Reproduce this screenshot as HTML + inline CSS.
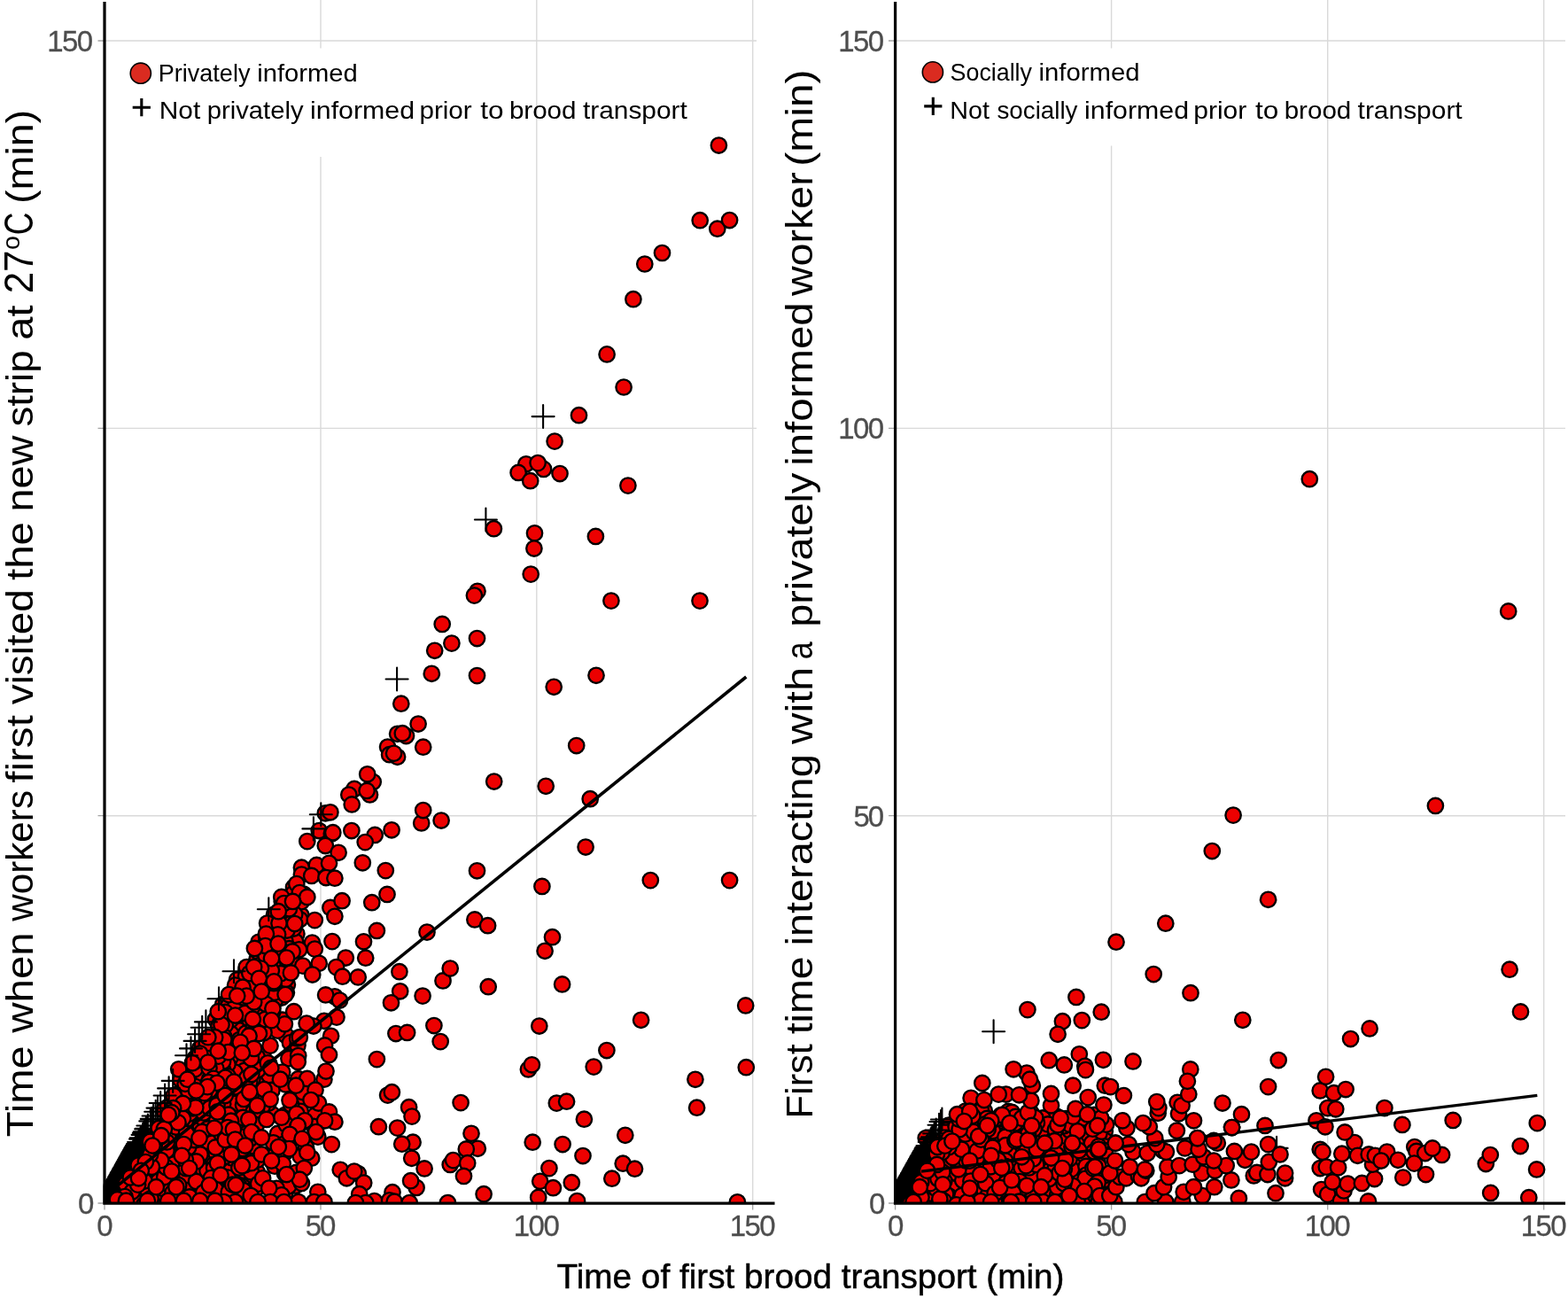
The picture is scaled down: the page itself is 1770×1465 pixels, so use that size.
<!DOCTYPE html>
<html lang="en"><head><meta charset="utf-8"><title>Time of first brood transport</title>
<style>html,body{margin:0;padding:0;background:#fff}body{width:1770px;height:1465px;overflow:hidden}</style></head>
<body>
<svg width="1770" height="1465" viewBox="0 0 1770 1465" style="display:block;font-family:'Liberation Sans',sans-serif">
<rect width="1770" height="1465" fill="#fff"/>
<defs><clipPath id="cl"><rect x="116.5" y="0" width="760" height="1358"/></clipPath><clipPath id="cr"><rect x="1009" y="0" width="761" height="1358"/></clipPath></defs>
<path d="M362.0 0V1358M605.8 0V1358M849.7 0V1358M118 46.0H854M118 483.4H854M118 920.7H854M1254.6 0V1358M1498.7 0V1358M1742.7 0V1358M1010 46.0H1767M1010 483.4H1767M1010 920.7H1767" stroke="#d9d9d9" stroke-width="1.4" fill="none"/>
<rect x="130" y="54.5" width="460" height="122.5" fill="#fff"/>
<rect x="1025" y="54.5" width="460" height="110" fill="#fff"/>
<g clip-path="url(#cl)"><g fill="#ec0000" stroke="#000" stroke-width="2.35"><circle cx="325.9" cy="1194.7" r="8.7"/><circle cx="307.1" cy="1356.6" r="8.7"/><circle cx="303.6" cy="1200.4" r="8.7"/><circle cx="343.7" cy="1240.4" r="8.7"/><circle cx="321.9" cy="1346.5" r="8.7"/><circle cx="339.2" cy="1305.1" r="8.7"/><circle cx="355.7" cy="1258.9" r="8.7"/><circle cx="313.6" cy="1279.4" r="8.7"/><circle cx="354.3" cy="1271.4" r="8.7"/><circle cx="345.5" cy="1295.1" r="8.7"/><circle cx="336.7" cy="1217.7" r="8.7"/><circle cx="308.6" cy="1289.8" r="8.7"/><circle cx="322.7" cy="1168.4" r="8.7"/><circle cx="307.0" cy="1257.4" r="8.7"/><circle cx="293.1" cy="1338.0" r="8.7"/><circle cx="308.8" cy="1305.6" r="8.7"/><circle cx="322.4" cy="1224.0" r="8.7"/><circle cx="327.4" cy="1176.8" r="8.7"/><circle cx="310.1" cy="1316.2" r="8.7"/><circle cx="306.9" cy="1230.8" r="8.7"/><circle cx="339.3" cy="1254.3" r="8.7"/><circle cx="321.4" cy="1258.7" r="8.7"/><circle cx="334.3" cy="1323.4" r="8.7"/><circle cx="336.0" cy="1179.7" r="8.7"/><circle cx="293.5" cy="1224.1" r="8.7"/><circle cx="336.7" cy="1191.5" r="8.7"/><circle cx="333.9" cy="1338.3" r="8.7"/><circle cx="325.7" cy="1338.7" r="8.7"/><circle cx="328.6" cy="1246.7" r="8.7"/><circle cx="318.9" cy="1151.2" r="8.7"/><circle cx="320.6" cy="1291.3" r="8.7"/><circle cx="335.6" cy="1171.9" r="8.7"/><circle cx="321.8" cy="1300.7" r="8.7"/><circle cx="302.9" cy="1245.3" r="8.7"/><circle cx="296.1" cy="1248.7" r="8.7"/><circle cx="303.6" cy="1213.5" r="8.7"/><circle cx="297.1" cy="1191.9" r="8.7"/><circle cx="312.2" cy="1341.3" r="8.7"/><circle cx="341.5" cy="1232.5" r="8.7"/><circle cx="313.3" cy="1163.1" r="8.7"/><circle cx="318.7" cy="1210.1" r="8.7"/><circle cx="323.1" cy="1269.2" r="8.7"/><circle cx="305.0" cy="1180.2" r="8.7"/><circle cx="335.8" cy="1271.7" r="8.7"/><circle cx="321.4" cy="1324.5" r="8.7"/><circle cx="298.0" cy="1165.4" r="8.7"/><circle cx="138.9" cy="1341.8" r="8.7"/><circle cx="321.9" cy="1095.4" r="8.7"/><circle cx="246.1" cy="1169.9" r="8.7"/><circle cx="307.7" cy="1142.1" r="8.7"/><circle cx="220.2" cy="1305.9" r="8.7"/><circle cx="218.4" cy="1317.2" r="8.7"/><circle cx="217.8" cy="1329.3" r="8.7"/><circle cx="238.1" cy="1198.6" r="8.7"/><circle cx="285.0" cy="1210.0" r="8.7"/><circle cx="342.7" cy="1009.1" r="8.7"/><circle cx="171.6" cy="1282.9" r="8.7"/><circle cx="275.4" cy="1185.7" r="8.7"/><circle cx="221.9" cy="1357.4" r="8.7"/><circle cx="305.2" cy="1089.7" r="8.7"/><circle cx="220.6" cy="1343.8" r="8.7"/><circle cx="278.6" cy="1153.4" r="8.7"/><circle cx="292.0" cy="1063.3" r="8.7"/><circle cx="242.3" cy="1253.3" r="8.7"/><circle cx="273.9" cy="1254.6" r="8.7"/><circle cx="283.2" cy="1342.0" r="8.7"/><circle cx="198.8" cy="1303.9" r="8.7"/><circle cx="217.5" cy="1241.8" r="8.7"/><circle cx="324.4" cy="1111.2" r="8.7"/><circle cx="309.6" cy="1032.0" r="8.7"/><circle cx="329.9" cy="1026.0" r="8.7"/><circle cx="182.1" cy="1354.6" r="8.7"/><circle cx="294.9" cy="1144.5" r="8.7"/><circle cx="238.9" cy="1185.8" r="8.7"/><circle cx="194.2" cy="1289.3" r="8.7"/><circle cx="226.4" cy="1205.8" r="8.7"/><circle cx="270.3" cy="1303.5" r="8.7"/><circle cx="235.3" cy="1296.3" r="8.7"/><circle cx="268.9" cy="1151.7" r="8.7"/><circle cx="283.4" cy="1240.1" r="8.7"/><circle cx="265.3" cy="1314.3" r="8.7"/><circle cx="212.4" cy="1261.8" r="8.7"/><circle cx="289.1" cy="1166.5" r="8.7"/><circle cx="257.0" cy="1225.1" r="8.7"/><circle cx="284.1" cy="1304.0" r="8.7"/><circle cx="234.0" cy="1310.6" r="8.7"/><circle cx="262.8" cy="1251.0" r="8.7"/><circle cx="277.5" cy="1159.0" r="8.7"/><circle cx="259.4" cy="1175.4" r="8.7"/><circle cx="226.5" cy="1248.4" r="8.7"/><circle cx="218.1" cy="1265.6" r="8.7"/><circle cx="149.3" cy="1334.5" r="8.7"/><circle cx="201.6" cy="1258.6" r="8.7"/><circle cx="202.5" cy="1241.5" r="8.7"/><circle cx="132.1" cy="1359.5" r="8.7"/><circle cx="282.5" cy="1154.4" r="8.7"/><circle cx="331.5" cy="1001.5" r="8.7"/><circle cx="226.7" cy="1327.4" r="8.7"/><circle cx="277.2" cy="1269.6" r="8.7"/><circle cx="284.8" cy="1133.5" r="8.7"/><circle cx="265.0" cy="1214.1" r="8.7"/><circle cx="229.3" cy="1294.8" r="8.7"/><circle cx="340.1" cy="1033.2" r="8.7"/><circle cx="237.5" cy="1338.0" r="8.7"/><circle cx="154.4" cy="1342.5" r="8.7"/><circle cx="195.2" cy="1328.0" r="8.7"/><circle cx="254.0" cy="1317.8" r="8.7"/><circle cx="276.8" cy="1335.7" r="8.7"/><circle cx="334.9" cy="1053.9" r="8.7"/><circle cx="294.5" cy="1102.5" r="8.7"/><circle cx="265.2" cy="1358.1" r="8.7"/><circle cx="316.9" cy="1061.5" r="8.7"/><circle cx="241.2" cy="1269.6" r="8.7"/><circle cx="254.2" cy="1144.3" r="8.7"/><circle cx="219.0" cy="1214.9" r="8.7"/><circle cx="268.1" cy="1192.8" r="8.7"/><circle cx="250.2" cy="1184.8" r="8.7"/><circle cx="266.6" cy="1255.5" r="8.7"/><circle cx="172.4" cy="1317.7" r="8.7"/><circle cx="259.7" cy="1311.3" r="8.7"/><circle cx="276.1" cy="1133.2" r="8.7"/><circle cx="323.3" cy="1055.0" r="8.7"/><circle cx="226.3" cy="1288.1" r="8.7"/><circle cx="281.3" cy="1337.2" r="8.7"/><circle cx="317.7" cy="1042.8" r="8.7"/><circle cx="273.9" cy="1350.8" r="8.7"/><circle cx="246.3" cy="1240.1" r="8.7"/><circle cx="236.8" cy="1253.9" r="8.7"/><circle cx="278.0" cy="1192.1" r="8.7"/><circle cx="230.9" cy="1223.9" r="8.7"/><circle cx="268.5" cy="1272.1" r="8.7"/><circle cx="267.3" cy="1181.2" r="8.7"/><circle cx="310.6" cy="1045.6" r="8.7"/><circle cx="258.1" cy="1238.2" r="8.7"/><circle cx="213.7" cy="1239.8" r="8.7"/><circle cx="226.8" cy="1216.5" r="8.7"/><circle cx="262.6" cy="1280.8" r="8.7"/><circle cx="155.1" cy="1306.7" r="8.7"/><circle cx="222.8" cy="1270.3" r="8.7"/><circle cx="241.1" cy="1277.8" r="8.7"/><circle cx="229.1" cy="1360.7" r="8.7"/><circle cx="243.3" cy="1198.5" r="8.7"/><circle cx="219.7" cy="1295.7" r="8.7"/><circle cx="318.7" cy="1104.7" r="8.7"/><circle cx="286.6" cy="1089.3" r="8.7"/><circle cx="297.0" cy="1073.5" r="8.7"/><circle cx="206.7" cy="1282.6" r="8.7"/><circle cx="155.2" cy="1318.1" r="8.7"/><circle cx="251.9" cy="1240.5" r="8.7"/><circle cx="259.0" cy="1232.6" r="8.7"/><circle cx="203.1" cy="1318.5" r="8.7"/><circle cx="266.7" cy="1198.5" r="8.7"/><circle cx="186.9" cy="1359.8" r="8.7"/><circle cx="274.8" cy="1199.9" r="8.7"/><circle cx="308.0" cy="1135.3" r="8.7"/><circle cx="282.2" cy="1174.6" r="8.7"/><circle cx="293.4" cy="1137.7" r="8.7"/><circle cx="220.8" cy="1279.2" r="8.7"/><circle cx="245.2" cy="1177.7" r="8.7"/><circle cx="285.8" cy="1142.6" r="8.7"/><circle cx="273.5" cy="1226.2" r="8.7"/><circle cx="293.1" cy="1118.1" r="8.7"/><circle cx="252.5" cy="1311.1" r="8.7"/><circle cx="178.8" cy="1346.3" r="8.7"/><circle cx="219.3" cy="1233.7" r="8.7"/><circle cx="278.3" cy="1277.2" r="8.7"/><circle cx="266.1" cy="1241.2" r="8.7"/><circle cx="212.2" cy="1269.1" r="8.7"/><circle cx="241.4" cy="1234.8" r="8.7"/><circle cx="278.3" cy="1173.2" r="8.7"/><circle cx="291.9" cy="1125.3" r="8.7"/><circle cx="196.4" cy="1295.5" r="8.7"/><circle cx="251.8" cy="1133.6" r="8.7"/><circle cx="236.5" cy="1242.4" r="8.7"/><circle cx="166.5" cy="1293.8" r="8.7"/><circle cx="286.4" cy="1250.4" r="8.7"/><circle cx="277.9" cy="1094.4" r="8.7"/><circle cx="331.2" cy="1071.4" r="8.7"/><circle cx="322.6" cy="1015.2" r="8.7"/><circle cx="290.2" cy="1082.4" r="8.7"/><circle cx="257.7" cy="1127.9" r="8.7"/><circle cx="166.0" cy="1350.8" r="8.7"/><circle cx="235.6" cy="1280.0" r="8.7"/><circle cx="298.9" cy="1118.2" r="8.7"/><circle cx="276.6" cy="1230.9" r="8.7"/><circle cx="229.6" cy="1238.4" r="8.7"/><circle cx="174.0" cy="1337.7" r="8.7"/><circle cx="258.6" cy="1158.4" r="8.7"/><circle cx="253.2" cy="1234.0" r="8.7"/><circle cx="204.3" cy="1345.6" r="8.7"/><circle cx="265.6" cy="1165.6" r="8.7"/><circle cx="269.8" cy="1130.8" r="8.7"/><circle cx="205.7" cy="1298.2" r="8.7"/><circle cx="326.5" cy="1031.7" r="8.7"/><circle cx="299.2" cy="1145.6" r="8.7"/><circle cx="260.3" cy="1287.9" r="8.7"/><circle cx="270.9" cy="1234.0" r="8.7"/><circle cx="202.8" cy="1325.4" r="8.7"/><circle cx="230.0" cy="1199.1" r="8.7"/><circle cx="188.4" cy="1306.3" r="8.7"/><circle cx="233.5" cy="1261.5" r="8.7"/><circle cx="340.2" cy="1017.7" r="8.7"/><circle cx="323.4" cy="1120.3" r="8.7"/><circle cx="226.1" cy="1269.6" r="8.7"/><circle cx="282.3" cy="1097.6" r="8.7"/><circle cx="313.4" cy="1117.6" r="8.7"/><circle cx="283.6" cy="1200.8" r="8.7"/><circle cx="241.1" cy="1287.1" r="8.7"/><circle cx="211.6" cy="1210.3" r="8.7"/><circle cx="275.5" cy="1329.0" r="8.7"/><circle cx="229.2" cy="1335.4" r="8.7"/><circle cx="269.9" cy="1264.5" r="8.7"/><circle cx="190.0" cy="1264.2" r="8.7"/><circle cx="170.1" cy="1330.1" r="8.7"/><circle cx="212.6" cy="1247.4" r="8.7"/><circle cx="234.0" cy="1193.7" r="8.7"/><circle cx="289.9" cy="1237.3" r="8.7"/><circle cx="249.9" cy="1221.1" r="8.7"/><circle cx="254.7" cy="1335.5" r="8.7"/><circle cx="333.5" cy="1062.8" r="8.7"/><circle cx="305.4" cy="1042.9" r="8.7"/><circle cx="242.7" cy="1333.5" r="8.7"/><circle cx="281.5" cy="1361.0" r="8.7"/><circle cx="317.3" cy="1058.3" r="8.7"/><circle cx="203.0" cy="1350.1" r="8.7"/><circle cx="185.6" cy="1310.0" r="8.7"/><circle cx="291.2" cy="1360.5" r="8.7"/><circle cx="290.3" cy="1193.1" r="8.7"/><circle cx="290.2" cy="1322.7" r="8.7"/><circle cx="253.3" cy="1256.3" r="8.7"/><circle cx="214.8" cy="1360.7" r="8.7"/><circle cx="290.1" cy="1302.1" r="8.7"/><circle cx="290.8" cy="1098.7" r="8.7"/><circle cx="165.1" cy="1304.2" r="8.7"/><circle cx="269.0" cy="1327.1" r="8.7"/><circle cx="229.3" cy="1262.2" r="8.7"/><circle cx="234.4" cy="1349.2" r="8.7"/><circle cx="284.5" cy="1293.5" r="8.7"/><circle cx="310.4" cy="1083.0" r="8.7"/><circle cx="268.0" cy="1352.0" r="8.7"/><circle cx="249.8" cy="1326.7" r="8.7"/><circle cx="254.8" cy="1281.7" r="8.7"/><circle cx="307.0" cy="1102.6" r="8.7"/><circle cx="210.0" cy="1345.0" r="8.7"/><circle cx="210.3" cy="1338.5" r="8.7"/><circle cx="179.4" cy="1304.4" r="8.7"/><circle cx="244.7" cy="1264.0" r="8.7"/><circle cx="193.3" cy="1280.1" r="8.7"/><circle cx="266.3" cy="1245.2" r="8.7"/><circle cx="269.4" cy="1338.0" r="8.7"/><circle cx="212.9" cy="1217.8" r="8.7"/><circle cx="266.7" cy="1290.9" r="8.7"/><circle cx="317.9" cy="1126.0" r="8.7"/><circle cx="269.5" cy="1162.7" r="8.7"/><circle cx="310.4" cy="1128.7" r="8.7"/><circle cx="229.3" cy="1311.1" r="8.7"/><circle cx="274.5" cy="1247.1" r="8.7"/><circle cx="331.1" cy="1077.5" r="8.7"/><circle cx="188.3" cy="1250.2" r="8.7"/><circle cx="317.9" cy="1047.6" r="8.7"/><circle cx="249.6" cy="1192.4" r="8.7"/><circle cx="267.7" cy="1341.7" r="8.7"/><circle cx="238.9" cy="1306.0" r="8.7"/><circle cx="186.0" cy="1353.7" r="8.7"/><circle cx="215.0" cy="1303.1" r="8.7"/><circle cx="257.6" cy="1182.2" r="8.7"/><circle cx="225.2" cy="1192.3" r="8.7"/><circle cx="206.5" cy="1223.7" r="8.7"/><circle cx="301.5" cy="1106.4" r="8.7"/><circle cx="281.1" cy="1119.0" r="8.7"/><circle cx="259.7" cy="1322.0" r="8.7"/><circle cx="219.7" cy="1255.0" r="8.7"/><circle cx="275.1" cy="1321.3" r="8.7"/><circle cx="244.1" cy="1301.7" r="8.7"/><circle cx="260.2" cy="1193.3" r="8.7"/><circle cx="315.7" cy="1077.8" r="8.7"/><circle cx="214.1" cy="1256.8" r="8.7"/><circle cx="273.9" cy="1302.7" r="8.7"/><circle cx="203.2" cy="1232.9" r="8.7"/><circle cx="219.9" cy="1194.8" r="8.7"/><circle cx="260.5" cy="1146.3" r="8.7"/><circle cx="289.3" cy="1152.2" r="8.7"/><circle cx="193.3" cy="1334.5" r="8.7"/><circle cx="282.0" cy="1285.4" r="8.7"/><circle cx="210.9" cy="1326.4" r="8.7"/><circle cx="331.2" cy="1008.4" r="8.7"/><circle cx="284.5" cy="1349.5" r="8.7"/><circle cx="290.9" cy="1074.0" r="8.7"/><circle cx="266.1" cy="1294.8" r="8.7"/><circle cx="302.6" cy="1127.3" r="8.7"/><circle cx="267.5" cy="1105.9" r="8.7"/><circle cx="146.5" cy="1349.8" r="8.7"/><circle cx="229.0" cy="1319.0" r="8.7"/><circle cx="220.6" cy="1226.6" r="8.7"/><circle cx="219.2" cy="1352.3" r="8.7"/><circle cx="286.0" cy="1255.0" r="8.7"/><circle cx="220.3" cy="1206.6" r="8.7"/><circle cx="275.8" cy="1208.4" r="8.7"/><circle cx="309.6" cy="1064.7" r="8.7"/><circle cx="235.3" cy="1288.5" r="8.7"/><circle cx="174.6" cy="1343.1" r="8.7"/><circle cx="236.8" cy="1217.7" r="8.7"/><circle cx="260.8" cy="1166.7" r="8.7"/><circle cx="285.4" cy="1263.4" r="8.7"/><circle cx="286.2" cy="1273.3" r="8.7"/><circle cx="285.2" cy="1326.5" r="8.7"/><circle cx="220.3" cy="1197.8" r="8.7"/><circle cx="310.0" cy="1069.7" r="8.7"/><circle cx="301.5" cy="1114.1" r="8.7"/><circle cx="164.1" cy="1343.7" r="8.7"/><circle cx="285.2" cy="1184.0" r="8.7"/><circle cx="284.9" cy="1217.7" r="8.7"/><circle cx="314.4" cy="1090.5" r="8.7"/><circle cx="221.5" cy="1333.5" r="8.7"/><circle cx="265.6" cy="1147.0" r="8.7"/><circle cx="299.7" cy="1088.3" r="8.7"/><circle cx="178.9" cy="1329.0" r="8.7"/><circle cx="292.7" cy="1113.0" r="8.7"/><circle cx="185.9" cy="1344.4" r="8.7"/><circle cx="283.3" cy="1322.8" r="8.7"/><circle cx="270.3" cy="1173.5" r="8.7"/><circle cx="261.9" cy="1306.9" r="8.7"/><circle cx="321.9" cy="1062.5" r="8.7"/><circle cx="190.1" cy="1336.6" r="8.7"/><circle cx="281.8" cy="1221.1" r="8.7"/><circle cx="245.4" cy="1183.6" r="8.7"/><circle cx="204.7" cy="1313.8" r="8.7"/><circle cx="318.0" cy="1110.8" r="8.7"/><circle cx="300.5" cy="1056.2" r="8.7"/><circle cx="253.9" cy="1353.2" r="8.7"/><circle cx="277.5" cy="1166.2" r="8.7"/><circle cx="290.5" cy="1309.3" r="8.7"/><circle cx="246.7" cy="1359.9" r="8.7"/><circle cx="260.2" cy="1210.2" r="8.7"/><circle cx="254.4" cy="1305.1" r="8.7"/><circle cx="212.7" cy="1287.8" r="8.7"/><circle cx="265.0" cy="1210.0" r="8.7"/><circle cx="318.2" cy="1017.2" r="8.7"/><circle cx="257.0" cy="1201.3" r="8.7"/><circle cx="227.2" cy="1354.0" r="8.7"/><circle cx="212.8" cy="1231.5" r="8.7"/><circle cx="203.6" cy="1304.7" r="8.7"/><circle cx="203.8" cy="1288.3" r="8.7"/><circle cx="251.9" cy="1208.0" r="8.7"/><circle cx="229.9" cy="1255.9" r="8.7"/><circle cx="201.7" cy="1337.7" r="8.7"/><circle cx="289.4" cy="1341.1" r="8.7"/><circle cx="243.4" cy="1150.6" r="8.7"/><circle cx="163.3" cy="1325.5" r="8.7"/><circle cx="233.9" cy="1321.2" r="8.7"/><circle cx="322.6" cy="1105.3" r="8.7"/><circle cx="251.6" cy="1198.1" r="8.7"/><circle cx="260.4" cy="1151.1" r="8.7"/><circle cx="253.2" cy="1270.2" r="8.7"/><circle cx="243.8" cy="1205.9" r="8.7"/><circle cx="278.5" cy="1216.7" r="8.7"/><circle cx="226.0" cy="1302.9" r="8.7"/><circle cx="204.1" cy="1272.2" r="8.7"/><circle cx="212.6" cy="1295.3" r="8.7"/><circle cx="254.3" cy="1157.1" r="8.7"/><circle cx="236.4" cy="1230.8" r="8.7"/><circle cx="251.7" cy="1246.0" r="8.7"/><circle cx="309.8" cy="1120.3" r="8.7"/><circle cx="233.7" cy="1342.7" r="8.7"/><circle cx="274.9" cy="1343.8" r="8.7"/><circle cx="253.7" cy="1298.1" r="8.7"/><circle cx="257.8" cy="1135.6" r="8.7"/><circle cx="326.4" cy="1070.7" r="8.7"/><circle cx="338.6" cy="1037.8" r="8.7"/><circle cx="321.6" cy="1038.6" r="8.7"/><circle cx="290.0" cy="1255.9" r="8.7"/><circle cx="250.6" cy="1262.2" r="8.7"/><circle cx="178.2" cy="1357.5" r="8.7"/><circle cx="276.9" cy="1118.2" r="8.7"/><circle cx="204.0" cy="1218.8" r="8.7"/><circle cx="332.7" cy="1032.0" r="8.7"/><circle cx="291.6" cy="1336.1" r="8.7"/><circle cx="236.8" cy="1250.7" r="8.7"/><circle cx="225.6" cy="1183.3" r="8.7"/><circle cx="289.3" cy="1269.7" r="8.7"/><circle cx="277.1" cy="1359.7" r="8.7"/><circle cx="149.0" cy="1362.0" r="8.7"/><circle cx="309.0" cy="1109.7" r="8.7"/><circle cx="265.7" cy="1226.8" r="8.7"/><circle cx="169.7" cy="1309.9" r="8.7"/><circle cx="246.6" cy="1192.1" r="8.7"/><circle cx="234.8" cy="1360.4" r="8.7"/><circle cx="266.5" cy="1120.6" r="8.7"/><circle cx="265.6" cy="1135.7" r="8.7"/><circle cx="252.8" cy="1175.1" r="8.7"/><circle cx="262.4" cy="1354.7" r="8.7"/><circle cx="300.0" cy="1094.1" r="8.7"/><circle cx="194.1" cy="1263.6" r="8.7"/><circle cx="180.2" cy="1319.3" r="8.7"/><circle cx="178.7" cy="1333.3" r="8.7"/><circle cx="244.4" cy="1352.8" r="8.7"/><circle cx="218.9" cy="1286.5" r="8.7"/><circle cx="316.4" cy="1033.6" r="8.7"/><circle cx="245.0" cy="1247.4" r="8.7"/><circle cx="276.5" cy="1314.8" r="8.7"/><circle cx="249.4" cy="1342.7" r="8.7"/><circle cx="195.0" cy="1345.9" r="8.7"/><circle cx="246.3" cy="1330.2" r="8.7"/><circle cx="252.8" cy="1170.0" r="8.7"/><circle cx="196.1" cy="1313.9" r="8.7"/><circle cx="329.2" cy="1041.7" r="8.7"/><circle cx="172.4" cy="1359.1" r="8.7"/><circle cx="181.6" cy="1296.5" r="8.7"/><circle cx="236.0" cy="1205.4" r="8.7"/><circle cx="214.0" cy="1350.9" r="8.7"/><circle cx="324.9" cy="1086.8" r="8.7"/><circle cx="241.2" cy="1217.3" r="8.7"/><circle cx="188.0" cy="1298.8" r="8.7"/><circle cx="331.4" cy="1048.0" r="8.7"/><circle cx="252.9" cy="1358.8" r="8.7"/><circle cx="153.2" cy="1353.6" r="8.7"/><circle cx="257.3" cy="1214.8" r="8.7"/><circle cx="234.5" cy="1273.9" r="8.7"/><circle cx="158.4" cy="1358.0" r="8.7"/><circle cx="290.4" cy="1162.4" r="8.7"/><circle cx="281.2" cy="1101.4" r="8.7"/><circle cx="233.5" cy="1177.7" r="8.7"/><circle cx="330.0" cy="1017.6" r="8.7"/><circle cx="221.6" cy="1310.9" r="8.7"/><circle cx="162.8" cy="1359.7" r="8.7"/><circle cx="257.2" cy="1329.1" r="8.7"/><circle cx="291.2" cy="1207.5" r="8.7"/><circle cx="185.7" cy="1328.4" r="8.7"/><circle cx="209.1" cy="1223.3" r="8.7"/><circle cx="274.2" cy="1125.8" r="8.7"/><circle cx="254.3" cy="1216.3" r="8.7"/><circle cx="269.8" cy="1318.0" r="8.7"/><circle cx="170.1" cy="1352.8" r="8.7"/><circle cx="243.2" cy="1342.2" r="8.7"/><circle cx="276.8" cy="1143.4" r="8.7"/><circle cx="260.0" cy="1295.7" r="8.7"/><circle cx="322.2" cy="1077.5" r="8.7"/><circle cx="275.2" cy="1240.4" r="8.7"/><circle cx="277.3" cy="1111.7" r="8.7"/><circle cx="187.4" cy="1317.4" r="8.7"/><circle cx="277.6" cy="1101.2" r="8.7"/><circle cx="283.5" cy="1194.7" r="8.7"/><circle cx="132.8" cy="1354.6" r="8.7"/><circle cx="249.1" cy="1152.9" r="8.7"/><circle cx="274.8" cy="1289.6" r="8.7"/><circle cx="166.8" cy="1318.7" r="8.7"/><circle cx="326.4" cy="1025.8" r="8.7"/><circle cx="324.0" cy="1050.0" r="8.7"/><circle cx="235.5" cy="1221.6" r="8.7"/><circle cx="309.5" cy="1056.9" r="8.7"/><circle cx="286.3" cy="1159.0" r="8.7"/><circle cx="283.6" cy="1234.3" r="8.7"/><circle cx="299.9" cy="1065.1" r="8.7"/><circle cx="243.3" cy="1294.9" r="8.7"/><circle cx="163.1" cy="1333.0" r="8.7"/><circle cx="244.9" cy="1222.3" r="8.7"/><circle cx="282.4" cy="1111.5" r="8.7"/><circle cx="292.9" cy="1089.6" r="8.7"/><circle cx="257.9" cy="1258.2" r="8.7"/><circle cx="269.9" cy="1282.3" r="8.7"/><circle cx="300.1" cy="1133.3" r="8.7"/><circle cx="286.7" cy="1130.9" r="8.7"/><circle cx="189.9" cy="1282.1" r="8.7"/><circle cx="230.7" cy="1233.7" r="8.7"/><circle cx="241.6" cy="1314.4" r="8.7"/><circle cx="229.6" cy="1346.0" r="8.7"/><circle cx="329.8" cy="1086.5" r="8.7"/><circle cx="198.7" cy="1272.0" r="8.7"/><circle cx="241.6" cy="1318.6" r="8.7"/><circle cx="273.9" cy="1296.5" r="8.7"/><circle cx="317.0" cy="1098.7" r="8.7"/><circle cx="238.5" cy="1329.6" r="8.7"/><circle cx="258.2" cy="1345.2" r="8.7"/><circle cx="210.1" cy="1318.7" r="8.7"/><circle cx="274.2" cy="1261.4" r="8.7"/><circle cx="210.5" cy="1279.5" r="8.7"/><circle cx="260.7" cy="1265.2" r="8.7"/><circle cx="198.0" cy="1353.5" r="8.7"/><circle cx="265.6" cy="1112.0" r="8.7"/><circle cx="217.7" cy="1250.8" r="8.7"/><circle cx="262.6" cy="1337.1" r="8.7"/><circle cx="318.6" cy="1073.3" r="8.7"/><circle cx="209.4" cy="1309.1" r="8.7"/><circle cx="195.8" cy="1238.2" r="8.7"/><circle cx="300.0" cy="1078.3" r="8.7"/><circle cx="284.8" cy="1278.6" r="8.7"/><circle cx="254.2" cy="1286.4" r="8.7"/><circle cx="306.3" cy="1095.5" r="8.7"/><circle cx="283.6" cy="1312.7" r="8.7"/><circle cx="188.4" cy="1288.9" r="8.7"/><circle cx="299.4" cy="1150.4" r="8.7"/><circle cx="228.2" cy="1277.4" r="8.7"/><circle cx="246.8" cy="1158.3" r="8.7"/><circle cx="206.5" cy="1262.3" r="8.7"/><circle cx="193.7" cy="1322.0" r="8.7"/><circle cx="282.9" cy="1167.5" r="8.7"/><circle cx="181.6" cy="1309.6" r="8.7"/><circle cx="257.1" cy="1272.6" r="8.7"/><circle cx="811.4" cy="164.0" r="8.7"/><circle cx="790.2" cy="248.7" r="8.7"/><circle cx="809.8" cy="258.2" r="8.7"/><circle cx="823.6" cy="248.5" r="8.7"/><circle cx="747.5" cy="285.5" r="8.7"/><circle cx="727.8" cy="298.0" r="8.7"/><circle cx="714.9" cy="337.7" r="8.7"/><circle cx="685.1" cy="399.9" r="8.7"/><circle cx="704.1" cy="437.0" r="8.7"/><circle cx="653.5" cy="468.7" r="8.7"/><circle cx="626.1" cy="498.1" r="8.7"/><circle cx="593.9" cy="523.8" r="8.7"/><circle cx="613.6" cy="529.4" r="8.7"/><circle cx="607.1" cy="522.6" r="8.7"/><circle cx="585.1" cy="533.4" r="8.7"/><circle cx="598.7" cy="542.7" r="8.7"/><circle cx="632.0" cy="534.5" r="8.7"/><circle cx="708.9" cy="548.1" r="8.7"/><circle cx="557.4" cy="596.7" r="8.7"/><circle cx="603.5" cy="601.8" r="8.7"/><circle cx="602.9" cy="619.0" r="8.7"/><circle cx="672.4" cy="605.4" r="8.7"/><circle cx="599.2" cy="648.1" r="8.7"/><circle cx="539.0" cy="667.3" r="8.7"/><circle cx="535.4" cy="672.1" r="8.7"/><circle cx="689.9" cy="678.1" r="8.7"/><circle cx="790.0" cy="678.1" r="8.7"/><circle cx="499.2" cy="704.4" r="8.7"/><circle cx="538.5" cy="720.5" r="8.7"/><circle cx="509.9" cy="726.1" r="8.7"/><circle cx="490.7" cy="734.3" r="8.7"/><circle cx="487.3" cy="760.3" r="8.7"/><circle cx="538.5" cy="762.6" r="8.7"/><circle cx="673.0" cy="762.3" r="8.7"/><circle cx="625.2" cy="775.3" r="8.7"/><circle cx="452.8" cy="794.2" r="8.7"/><circle cx="472.1" cy="817.0" r="8.7"/><circle cx="448.6" cy="828.3" r="8.7"/><circle cx="458.5" cy="830.5" r="8.7"/><circle cx="454.3" cy="827.7" r="8.7"/><circle cx="477.7" cy="843.2" r="8.7"/><circle cx="437.6" cy="843.0" r="8.7"/><circle cx="439.6" cy="851.7" r="8.7"/><circle cx="448.6" cy="854.3" r="8.7"/><circle cx="444.6" cy="850.3" r="8.7"/><circle cx="421.2" cy="882.5" r="8.7"/><circle cx="414.7" cy="873.8" r="8.7"/><circle cx="400.0" cy="890.4" r="8.7"/><circle cx="417.5" cy="896.9" r="8.7"/><circle cx="414.1" cy="892.4" r="8.7"/><circle cx="475.7" cy="928.9" r="8.7"/><circle cx="477.7" cy="914.5" r="8.7"/><circle cx="498.1" cy="926.0" r="8.7"/><circle cx="442.1" cy="936.8" r="8.7"/><circle cx="423.2" cy="942.4" r="8.7"/><circle cx="412.2" cy="950.6" r="8.7"/><circle cx="409.3" cy="973.8" r="8.7"/><circle cx="435.3" cy="982.6" r="8.7"/><circle cx="437.0" cy="1009.4" r="8.7"/><circle cx="419.8" cy="1018.7" r="8.7"/><circle cx="425.4" cy="1050.4" r="8.7"/><circle cx="410.5" cy="1062.8" r="8.7"/><circle cx="412.7" cy="1081.2" r="8.7"/><circle cx="404.2" cy="1102.9" r="8.7"/><circle cx="450.9" cy="1096.7" r="8.7"/><circle cx="451.7" cy="1118.8" r="8.7"/><circle cx="441.5" cy="1131.8" r="8.7"/><circle cx="477.1" cy="1124.1" r="8.7"/><circle cx="500.0" cy="1106.9" r="8.7"/><circle cx="508.2" cy="1093.0" r="8.7"/><circle cx="446.9" cy="1166.5" r="8.7"/><circle cx="459.6" cy="1165.4" r="8.7"/><circle cx="489.9" cy="1157.5" r="8.7"/><circle cx="497.2" cy="1175.6" r="8.7"/><circle cx="425.4" cy="1195.6" r="8.7"/><circle cx="557.7" cy="882.0" r="8.7"/><circle cx="616.2" cy="887.3" r="8.7"/><circle cx="650.7" cy="841.5" r="8.7"/><circle cx="666.2" cy="901.7" r="8.7"/><circle cx="661.1" cy="956.0" r="8.7"/><circle cx="538.5" cy="982.8" r="8.7"/><circle cx="611.9" cy="1000.4" r="8.7"/><circle cx="734.3" cy="993.6" r="8.7"/><circle cx="823.6" cy="993.6" r="8.7"/><circle cx="482.0" cy="1052.1" r="8.7"/><circle cx="535.9" cy="1037.9" r="8.7"/><circle cx="550.6" cy="1044.7" r="8.7"/><circle cx="615.1" cy="1073.3" r="8.7"/><circle cx="623.5" cy="1057.7" r="8.7"/><circle cx="551.2" cy="1113.7" r="8.7"/><circle cx="634.6" cy="1110.9" r="8.7"/><circle cx="841.7" cy="1134.9" r="8.7"/><circle cx="723.6" cy="1151.3" r="8.7"/><circle cx="608.8" cy="1158.0" r="8.7"/><circle cx="684.9" cy="1185.5" r="8.7"/><circle cx="596.4" cy="1206.9" r="8.7"/><circle cx="600.4" cy="1201.8" r="8.7"/><circle cx="670.2" cy="1204.1" r="8.7"/><circle cx="842.3" cy="1204.7" r="8.7"/><circle cx="784.9" cy="1218.3" r="8.7"/><circle cx="786.6" cy="1250.2" r="8.7"/><circle cx="437.6" cy="1236.1" r="8.7"/><circle cx="442.4" cy="1232.7" r="8.7"/><circle cx="461.6" cy="1249.7" r="8.7"/><circle cx="465.0" cy="1260.1" r="8.7"/><circle cx="520.1" cy="1244.6" r="8.7"/><circle cx="628.3" cy="1245.1" r="8.7"/><circle cx="639.6" cy="1243.2" r="8.7"/><circle cx="659.4" cy="1263.2" r="8.7"/><circle cx="427.4" cy="1271.7" r="8.7"/><circle cx="448.6" cy="1273.1" r="8.7"/><circle cx="532.0" cy="1279.3" r="8.7"/><circle cx="705.8" cy="1281.3" r="8.7"/><circle cx="466.1" cy="1289.2" r="8.7"/><circle cx="453.7" cy="1291.2" r="8.7"/><circle cx="601.2" cy="1289.2" r="8.7"/><circle cx="635.1" cy="1291.5" r="8.7"/><circle cx="539.3" cy="1296.3" r="8.7"/><circle cx="526.3" cy="1296.9" r="8.7"/><circle cx="658.0" cy="1304.5" r="8.7"/><circle cx="464.7" cy="1307.3" r="8.7"/><circle cx="479.1" cy="1318.9" r="8.7"/><circle cx="508.2" cy="1314.4" r="8.7"/><circle cx="511.6" cy="1309.6" r="8.7"/><circle cx="527.7" cy="1312.7" r="8.7"/><circle cx="703.2" cy="1313.2" r="8.7"/><circle cx="716.5" cy="1319.2" r="8.7"/><circle cx="619.9" cy="1318.6" r="8.7"/><circle cx="523.5" cy="1327.4" r="8.7"/><circle cx="690.8" cy="1330.2" r="8.7"/><circle cx="645.3" cy="1334.7" r="8.7"/><circle cx="609.7" cy="1333.3" r="8.7"/><circle cx="624.4" cy="1340.7" r="8.7"/><circle cx="404.2" cy="1324.6" r="8.7"/><circle cx="410.7" cy="1335.0" r="8.7"/><circle cx="470.1" cy="1340.4" r="8.7"/><circle cx="463.6" cy="1332.7" r="8.7"/><circle cx="443.0" cy="1345.7" r="8.7"/><circle cx="546.1" cy="1347.7" r="8.7"/><circle cx="607.7" cy="1351.4" r="8.7"/><circle cx="405.7" cy="1347.7" r="8.7"/><circle cx="422.6" cy="1355.6" r="8.7"/><circle cx="412.7" cy="1357.6" r="8.7"/><circle cx="401.4" cy="1357.6" r="8.7"/><circle cx="439.6" cy="1354.8" r="8.7"/><circle cx="445.2" cy="1356.2" r="8.7"/><circle cx="462.2" cy="1357.6" r="8.7"/><circle cx="505.4" cy="1357.6" r="8.7"/><circle cx="651.5" cy="1355.6" r="8.7"/><circle cx="832.4" cy="1356.8" r="8.7"/><circle cx="393.8" cy="897.0" r="8.7"/><circle cx="397.2" cy="907.9" r="8.7"/><circle cx="367.3" cy="917.8" r="8.7"/><circle cx="372.9" cy="916.8" r="8.7"/><circle cx="360.2" cy="937.5" r="8.7"/><circle cx="374.3" cy="941.1" r="8.7"/><circle cx="375.8" cy="939.7" r="8.7"/><circle cx="396.9" cy="937.5" r="8.7"/><circle cx="346.8" cy="949.6" r="8.7"/><circle cx="367.3" cy="954.5" r="8.7"/><circle cx="382.1" cy="962.3" r="8.7"/><circle cx="340.4" cy="979.2" r="8.7"/><circle cx="357.4" cy="976.4" r="8.7"/><circle cx="371.5" cy="974.3" r="8.7"/><circle cx="340.4" cy="987.0" r="8.7"/><circle cx="351.7" cy="988.4" r="8.7"/><circle cx="368.0" cy="990.5" r="8.7"/><circle cx="377.9" cy="991.2" r="8.7"/><circle cx="317.8" cy="1012.4" r="8.7"/><circle cx="320.6" cy="1019.5" r="8.7"/><circle cx="334.8" cy="997.6" r="8.7"/><circle cx="338.3" cy="1007.5" r="8.7"/><circle cx="346.8" cy="1012.4" r="8.7"/><circle cx="330.5" cy="1017.4" r="8.7"/><circle cx="372.9" cy="1024.4" r="8.7"/><circle cx="386.1" cy="1016.7" r="8.7"/><circle cx="377.9" cy="1034.3" r="8.7"/><circle cx="301.6" cy="1042.1" r="8.7"/><circle cx="315.0" cy="1042.1" r="8.7"/><circle cx="314.3" cy="1028.7" r="8.7"/><circle cx="332.7" cy="1042.5" r="8.7"/><circle cx="355.3" cy="1038.6" r="8.7"/><circle cx="313.6" cy="1054.8" r="8.7"/><circle cx="300.4" cy="1054.1" r="8.7"/><circle cx="299.5" cy="1067.5" r="8.7"/><circle cx="287.4" cy="1070.4" r="8.7"/><circle cx="314.0" cy="1065.1" r="8.7"/><circle cx="375.0" cy="1062.6" r="8.7"/><circle cx="352.4" cy="1064.0" r="8.7"/><circle cx="355.3" cy="1071.1" r="8.7"/><circle cx="337.6" cy="1071.8" r="8.7"/><circle cx="330.1" cy="1073.9" r="8.7"/><circle cx="323.5" cy="1081.0" r="8.7"/><circle cx="306.5" cy="1081.7" r="8.7"/><circle cx="390.3" cy="1081.0" r="8.7"/><circle cx="341.8" cy="1090.1" r="8.7"/><circle cx="360.2" cy="1087.3" r="8.7"/><circle cx="379.6" cy="1091.6" r="8.7"/><circle cx="352.7" cy="1100.0" r="8.7"/><circle cx="278.3" cy="1091.6" r="8.7"/><circle cx="281.8" cy="1098.6" r="8.7"/><circle cx="294.5" cy="1093.0" r="8.7"/><circle cx="286.7" cy="1091.6" r="8.7"/><circle cx="328.4" cy="1097.9" r="8.7"/><circle cx="292.4" cy="1104.3" r="8.7"/><circle cx="309.3" cy="1107.8" r="8.7"/><circle cx="386.6" cy="1102.2" r="8.7"/><circle cx="322.1" cy="1122.6" r="8.7"/><circle cx="295.2" cy="1119.1" r="8.7"/><circle cx="274.0" cy="1114.2" r="8.7"/><circle cx="278.3" cy="1124.1" r="8.7"/><circle cx="258.5" cy="1122.6" r="8.7"/><circle cx="267.7" cy="1124.1" r="8.7"/><circle cx="377.9" cy="1124.8" r="8.7"/><circle cx="367.6" cy="1122.9" r="8.7"/><circle cx="383.5" cy="1129.0" r="8.7"/><circle cx="307.9" cy="1138.2" r="8.7"/><circle cx="331.7" cy="1141.7" r="8.7"/><circle cx="254.2" cy="1142.4" r="8.7"/><circle cx="265.5" cy="1146.0" r="8.7"/><circle cx="285.3" cy="1150.2" r="8.7"/><circle cx="380.0" cy="1148.1" r="8.7"/><circle cx="365.9" cy="1152.3" r="8.7"/><circle cx="353.9" cy="1158.0" r="8.7"/><circle cx="346.1" cy="1155.1" r="8.7"/><circle cx="321.4" cy="1155.8" r="8.7"/><circle cx="306.5" cy="1151.6" r="8.7"/><circle cx="373.6" cy="1169.3" r="8.7"/><circle cx="338.3" cy="1170.7" r="8.7"/><circle cx="366.6" cy="1179.9" r="8.7"/><circle cx="371.5" cy="1190.5" r="8.7"/><circle cx="250.0" cy="1156.6" r="8.7"/><circle cx="252.8" cy="1173.5" r="8.7"/><circle cx="292.4" cy="1166.4" r="8.7"/><circle cx="281.1" cy="1169.3" r="8.7"/><circle cx="271.2" cy="1176.3" r="8.7"/><circle cx="286.7" cy="1183.4" r="8.7"/><circle cx="257.8" cy="1187.6" r="8.7"/><circle cx="273.3" cy="1188.3" r="8.7"/><circle cx="283.9" cy="1212.5" r="8.7"/><circle cx="264.1" cy="1221.0" r="8.7"/><circle cx="302.3" cy="1199.8" r="8.7"/><circle cx="305.8" cy="1205.4" r="8.7"/><circle cx="316.4" cy="1218.2" r="8.7"/><circle cx="336.2" cy="1198.4" r="8.7"/><circle cx="365.9" cy="1218.2" r="8.7"/><circle cx="368.0" cy="1209.0" r="8.7"/><circle cx="346.8" cy="1217.4" r="8.7"/><circle cx="334.1" cy="1225.2" r="8.7"/><circle cx="356.0" cy="1230.2" r="8.7"/><circle cx="298.0" cy="1229.5" r="8.7"/><circle cx="281.8" cy="1232.3" r="8.7"/><circle cx="254.2" cy="1236.5" r="8.7"/><circle cx="305.1" cy="1240.8" r="8.7"/><circle cx="290.3" cy="1247.8" r="8.7"/><circle cx="327.0" cy="1241.7" r="8.7"/><circle cx="359.5" cy="1245.0" r="8.7"/><circle cx="351.0" cy="1241.5" r="8.7"/><circle cx="371.5" cy="1254.9" r="8.7"/><circle cx="377.9" cy="1266.2" r="8.7"/><circle cx="366.6" cy="1264.8" r="8.7"/><circle cx="334.8" cy="1257.0" r="8.7"/><circle cx="317.8" cy="1261.2" r="8.7"/><circle cx="300.9" cy="1263.4" r="8.7"/><circle cx="280.8" cy="1263.4" r="8.7"/><circle cx="344.0" cy="1264.8" r="8.7"/><circle cx="336.2" cy="1270.4" r="8.7"/><circle cx="358.8" cy="1283.1" r="8.7"/><circle cx="356.7" cy="1277.5" r="8.7"/><circle cx="327.0" cy="1280.3" r="8.7"/><circle cx="341.1" cy="1285.3" r="8.7"/><circle cx="263.4" cy="1274.7" r="8.7"/><circle cx="283.9" cy="1277.5" r="8.7"/><circle cx="295.2" cy="1283.9" r="8.7"/><circle cx="265.5" cy="1286.0" r="8.7"/><circle cx="276.8" cy="1293.0" r="8.7"/><circle cx="326.3" cy="1296.6" r="8.7"/><circle cx="314.3" cy="1294.5" r="8.7"/><circle cx="374.3" cy="1291.6" r="8.7"/><circle cx="351.7" cy="1307.2" r="8.7"/><circle cx="346.8" cy="1300.8" r="8.7"/><circle cx="261.3" cy="1302.9" r="8.7"/><circle cx="295.2" cy="1302.9" r="8.7"/><circle cx="319.2" cy="1313.5" r="8.7"/><circle cx="306.5" cy="1310.0" r="8.7"/><circle cx="273.3" cy="1315.6" r="8.7"/><circle cx="343.3" cy="1318.5" r="8.7"/><circle cx="384.2" cy="1320.3" r="8.7"/><circle cx="391.3" cy="1329.8" r="8.7"/><circle cx="399.8" cy="1322.0" r="8.7"/><circle cx="340.4" cy="1335.4" r="8.7"/><circle cx="338.3" cy="1331.2" r="8.7"/><circle cx="323.5" cy="1325.5" r="8.7"/><circle cx="296.6" cy="1329.8" r="8.7"/><circle cx="266.2" cy="1337.5" r="8.7"/><circle cx="358.8" cy="1345.3" r="8.7"/><circle cx="283.2" cy="1349.6" r="8.7"/><circle cx="317.8" cy="1348.8" r="8.7"/><circle cx="303.7" cy="1341.1" r="8.7"/><circle cx="354.6" cy="1356.6" r="8.7"/><circle cx="365.9" cy="1356.6" r="8.7"/><circle cx="336.9" cy="1356.6" r="8.7"/><circle cx="265.5" cy="1356.6" r="8.7"/><circle cx="305.1" cy="1356.6" r="8.7"/><circle cx="291.0" cy="1356.6" r="8.7"/><circle cx="252.8" cy="1356.6" r="8.7"/><circle cx="320.6" cy="1356.6" r="8.7"/><circle cx="246.2" cy="1141.7" r="8.7"/><circle cx="242.7" cy="1170.7" r="8.7"/><circle cx="234.9" cy="1170.7" r="8.7"/><circle cx="246.2" cy="1186.2" r="8.7"/><circle cx="225.8" cy="1189.1" r="8.7"/><circle cx="217.3" cy="1199.8" r="8.7"/><circle cx="234.9" cy="1199.1" r="8.7"/><circle cx="201.7" cy="1206.8" r="8.7"/><circle cx="211.6" cy="1218.2" r="8.7"/><circle cx="234.2" cy="1226.6" r="8.7"/><circle cx="221.5" cy="1230.9" r="8.7"/><circle cx="196.1" cy="1236.5" r="8.7"/><circle cx="220.8" cy="1249.9" r="8.7"/><circle cx="245.5" cy="1254.9" r="8.7"/><circle cx="184.8" cy="1253.5" r="8.7"/><circle cx="201.0" cy="1266.9" r="8.7"/><circle cx="242.0" cy="1273.3" r="8.7"/><circle cx="225.0" cy="1284.6" r="8.7"/><circle cx="207.4" cy="1291.6" r="8.7"/><circle cx="205.3" cy="1304.3" r="8.7"/><circle cx="213.7" cy="1318.5" r="8.7"/><circle cx="245.5" cy="1312.8" r="8.7"/><circle cx="249.1" cy="1326.2" r="8.7"/><circle cx="236.4" cy="1337.5" r="8.7"/><circle cx="171.4" cy="1317.1" r="8.7"/><circle cx="176.3" cy="1339.7" r="8.7"/><circle cx="198.9" cy="1339.7" r="8.7"/><circle cx="166.4" cy="1355.2" r="8.7"/><circle cx="189.7" cy="1355.2" r="8.7"/><circle cx="207.4" cy="1355.2" r="8.7"/><circle cx="225.8" cy="1355.2" r="8.7"/><circle cx="242.7" cy="1355.2" r="8.7"/></g><path d="M105.8 1357.7h25.0M118.3 1344.7v26.0M106.5 1356.5h25.0M119.0 1343.5v26.0M107.0 1355.7h25.0M119.5 1342.7v26.0M107.8 1354.1h25.0M120.3 1341.1v26.0M108.2 1353.5h25.0M120.7 1340.5v26.0M109.1 1351.9h25.0M121.6 1338.9v26.0M109.6 1350.9h25.0M122.1 1337.9v26.0M110.2 1349.9h25.0M122.7 1336.9v26.0M110.9 1348.7h25.0M123.4 1335.7v26.0M111.5 1347.6h25.0M124.0 1334.6v26.0M112.0 1346.6h25.0M124.5 1333.6v26.0M112.8 1345.2h25.0M125.3 1332.2v26.0M113.3 1344.3h25.0M125.8 1331.3v26.0M114.0 1343.1h25.0M126.5 1330.1v26.0M114.8 1341.6h25.0M127.3 1328.6v26.0M115.5 1340.4h25.0M128.0 1327.4v26.0M115.8 1339.9h25.0M128.3 1326.9v26.0M116.5 1338.6h25.0M129.0 1325.6v26.0M117.3 1337.1h25.0M129.8 1324.1v26.0M117.7 1336.4h25.0M130.2 1323.4v26.0M118.4 1335.1h25.0M130.9 1322.1v26.0M118.9 1334.2h25.0M131.4 1321.2v26.0M119.9 1332.5h25.0M132.4 1319.5v26.0M120.5 1331.4h25.0M133.0 1318.4v26.0M120.9 1330.7h25.0M133.4 1317.7v26.0M121.7 1329.3h25.0M134.2 1316.3v26.0M122.2 1328.4h25.0M134.7 1315.4v26.0M122.8 1327.3h25.0M135.3 1314.3v26.0M123.7 1325.8h25.0M136.2 1312.8v26.0M124.4 1324.4h25.0M136.9 1311.4v26.0M124.9 1323.5h25.0M137.4 1310.5v26.0M125.3 1322.8h25.0M137.8 1309.8v26.0M126.1 1321.4h25.0M138.6 1308.4v26.0M126.9 1320.0h25.0M139.4 1307.0v26.0M127.5 1318.8h25.0M140.0 1305.8v26.0M128.2 1317.7h25.0M140.7 1304.7v26.0M128.4 1317.2h25.0M140.9 1304.2v26.0M129.4 1315.5h25.0M141.9 1302.5v26.0M129.8 1314.8h25.0M142.3 1301.8v26.0M130.4 1313.7h25.0M142.9 1300.7v26.0M131.0 1312.6h25.0M143.5 1299.6v26.0M131.7 1311.2h25.0M144.2 1298.2v26.0M132.3 1310.2h25.0M144.8 1297.2v26.0M133.1 1308.7h25.0M145.6 1295.7v26.0M133.8 1307.6h25.0M146.3 1294.6v26.0M134.4 1306.5h25.0M146.9 1293.5v26.0M134.9 1305.5h25.0M147.4 1292.5v26.0M135.6 1304.3h25.0M148.1 1291.3v26.0M136.2 1303.2h25.0M148.7 1290.2v26.0M136.9 1301.9h25.0M149.4 1288.9v26.0M137.4 1301.0h25.0M149.9 1288.0v26.0M138.1 1299.8h25.0M150.6 1286.8v26.0M138.8 1298.6h25.0M151.3 1285.6v26.0M139.4 1297.5h25.0M151.9 1284.5v26.0M140.1 1296.3h25.0M152.6 1283.3v26.0M140.6 1295.4h25.0M153.1 1282.4v26.0M141.2 1294.2h25.0M153.7 1281.2v26.0M142.1 1292.7h25.0M154.6 1279.7v26.0M142.8 1291.5h25.0M155.3 1278.5v26.0M143.0 1291.0h25.0M155.5 1278.0v26.0M144.1 1289.0h25.0M156.6 1276.0v26.0M146.0 1285.6h25.0M158.5 1272.6v26.0M146.7 1284.3h25.0M159.2 1271.3v26.0M148.6 1280.9h25.0M161.1 1267.9v26.0M149.9 1278.7h25.0M162.4 1265.7v26.0M150.6 1277.3h25.0M163.1 1264.3v26.0M152.6 1273.8h25.0M165.1 1260.8v26.0M152.2 1274.5h25.0M164.7 1261.5v26.0M154.4 1270.5h25.0M166.9 1257.5v26.0M157.3 1265.4h25.0M169.8 1252.4v26.0M158.7 1262.9h25.0M171.2 1249.9v26.0M160.6 1259.5h25.0M173.1 1246.5v26.0M163.2 1254.8h25.0M175.7 1241.8v26.0M165.5 1250.6h25.0M178.0 1237.6v26.0" fill="none" stroke="#000" stroke-width="2.1" stroke-linecap="round"/><g fill="#ec0000" stroke="#000" stroke-width="2.35"><circle cx="179.3" cy="1273.5" r="8.7"/><circle cx="139.0" cy="1359.6" r="8.7"/><circle cx="182.0" cy="1288.7" r="8.7"/><circle cx="169.6" cy="1303.2" r="8.7"/><circle cx="169.5" cy="1288.3" r="8.7"/><circle cx="156.2" cy="1315.0" r="8.7"/><circle cx="206.5" cy="1245.4" r="8.7"/><circle cx="195.7" cy="1250.7" r="8.7"/><circle cx="164.4" cy="1311.5" r="8.7"/><circle cx="174.2" cy="1293.0" r="8.7"/><circle cx="142.0" cy="1336.4" r="8.7"/><circle cx="156.4" cy="1326.9" r="8.7"/><circle cx="149.2" cy="1345.0" r="8.7"/><circle cx="155.6" cy="1337.1" r="8.7"/><circle cx="193.8" cy="1255.7" r="8.7"/><circle cx="140.9" cy="1350.5" r="8.7"/><circle cx="185.4" cy="1274.2" r="8.7"/><circle cx="147.3" cy="1328.9" r="8.7"/><circle cx="181.8" cy="1282.5" r="8.7"/><circle cx="190.2" cy="1258.3" r="8.7"/><circle cx="182.0" cy="1281.7" r="8.7"/><circle cx="172.1" cy="1293.0" r="8.7"/><circle cx="159.3" cy="1321.3" r="8.7"/><circle cx="156.5" cy="1329.8" r="8.7"/><circle cx="132.5" cy="1353.8" r="8.7"/><circle cx="142.4" cy="1355.2" r="8.7"/></g><path d="M600.6 470.1h25.0M613.1 457.1v26.0M535.9 586.5h25.0M548.4 573.5v26.0M435.6 766.5h25.0M448.1 753.5v26.0M349.8 919.2h25.0M362.3 906.2v26.0M341.4 935.4h25.0M353.9 922.4v26.0M290.8 1026.3h25.0M303.3 1013.3v26.0M251.5 1096.2h25.0M264.0 1083.2v26.0M234.5 1127.3h25.0M247.0 1114.3v26.0M219.9 1153.4h25.0M232.4 1140.4v26.0M215.7 1159.7h25.0M228.2 1146.7v26.0M212.1 1167.2h25.0M224.6 1154.2v26.0M207.6 1174.9h25.0M220.1 1161.9v26.0M203.0 1183.4h25.0M215.5 1170.4v26.0M198.0 1191.2h25.0M210.5 1178.2v26.0M168.7 1245.0h25.0M181.2 1232.0v26.0M173.6 1236.5h25.0M186.1 1223.5v26.0M178.1 1228.4h25.0M190.6 1215.4v26.0M182.7 1219.9h25.0M195.2 1206.9v26.0" fill="none" stroke="#000" stroke-width="2.1" stroke-linecap="round"/></g>
<g clip-path="url(#cr)"><path d="M1109.1 1164.3h25.0M1121.6 1151.3v26.0M1428.6 1295.9h25.0M1441.1 1282.9v26.0" fill="none" stroke="#000" stroke-width="2.1" stroke-linecap="round"/><g fill="#ec0000" stroke="#000" stroke-width="2.35"><circle cx="1087.8" cy="1301.5" r="8.7"/><circle cx="1152.7" cy="1302.5" r="8.7"/><circle cx="1122.2" cy="1268.3" r="8.7"/><circle cx="1198.1" cy="1327.1" r="8.7"/><circle cx="1071.5" cy="1275.4" r="8.7"/><circle cx="1176.3" cy="1351.4" r="8.7"/><circle cx="1040.2" cy="1342.2" r="8.7"/><circle cx="1191.8" cy="1306.5" r="8.7"/><circle cx="1247.3" cy="1276.7" r="8.7"/><circle cx="1142.6" cy="1277.4" r="8.7"/><circle cx="1105.0" cy="1315.6" r="8.7"/><circle cx="1206.6" cy="1323.5" r="8.7"/><circle cx="1195.8" cy="1292.0" r="8.7"/><circle cx="1198.5" cy="1302.4" r="8.7"/><circle cx="1242.5" cy="1326.0" r="8.7"/><circle cx="1247.1" cy="1287.1" r="8.7"/><circle cx="1214.5" cy="1359.4" r="8.7"/><circle cx="1168.4" cy="1298.2" r="8.7"/><circle cx="1167.5" cy="1293.3" r="8.7"/><circle cx="1230.9" cy="1309.1" r="8.7"/><circle cx="1142.9" cy="1323.0" r="8.7"/><circle cx="1223.1" cy="1292.0" r="8.7"/><circle cx="1083.3" cy="1335.3" r="8.7"/><circle cx="1185.6" cy="1327.1" r="8.7"/><circle cx="1073.3" cy="1322.5" r="8.7"/><circle cx="1152.1" cy="1326.9" r="8.7"/><circle cx="1103.3" cy="1295.0" r="8.7"/><circle cx="1139.1" cy="1340.5" r="8.7"/><circle cx="1215.9" cy="1335.0" r="8.7"/><circle cx="1081.1" cy="1282.5" r="8.7"/><circle cx="1078.6" cy="1306.3" r="8.7"/><circle cx="1214.0" cy="1267.6" r="8.7"/><circle cx="1091.1" cy="1269.9" r="8.7"/><circle cx="1073.3" cy="1358.9" r="8.7"/><circle cx="1225.5" cy="1267.8" r="8.7"/><circle cx="1072.2" cy="1316.5" r="8.7"/><circle cx="1153.9" cy="1286.3" r="8.7"/><circle cx="1131.5" cy="1290.8" r="8.7"/><circle cx="1177.1" cy="1266.0" r="8.7"/><circle cx="1088.8" cy="1338.7" r="8.7"/><circle cx="1222.5" cy="1279.1" r="8.7"/><circle cx="1239.2" cy="1283.2" r="8.7"/><circle cx="1035.8" cy="1342.7" r="8.7"/><circle cx="1232.4" cy="1286.4" r="8.7"/><circle cx="1208.2" cy="1335.4" r="8.7"/><circle cx="1162.3" cy="1291.9" r="8.7"/><circle cx="1248.7" cy="1350.6" r="8.7"/><circle cx="1048.9" cy="1355.8" r="8.7"/><circle cx="1219.3" cy="1314.3" r="8.7"/><circle cx="1168.1" cy="1284.7" r="8.7"/><circle cx="1178.7" cy="1318.8" r="8.7"/><circle cx="1186.0" cy="1291.4" r="8.7"/><circle cx="1032.4" cy="1349.0" r="8.7"/><circle cx="1174.2" cy="1333.3" r="8.7"/><circle cx="1187.8" cy="1359.3" r="8.7"/><circle cx="1026.7" cy="1351.0" r="8.7"/><circle cx="1129.2" cy="1342.0" r="8.7"/><circle cx="1222.2" cy="1310.7" r="8.7"/><circle cx="1095.3" cy="1355.0" r="8.7"/><circle cx="1186.5" cy="1274.1" r="8.7"/><circle cx="1128.2" cy="1270.0" r="8.7"/><circle cx="1128.3" cy="1327.4" r="8.7"/><circle cx="1131.6" cy="1331.6" r="8.7"/><circle cx="1167.9" cy="1323.9" r="8.7"/><circle cx="1083.4" cy="1301.5" r="8.7"/><circle cx="1066.4" cy="1309.2" r="8.7"/><circle cx="1155.6" cy="1278.2" r="8.7"/><circle cx="1241.0" cy="1279.1" r="8.7"/><circle cx="1129.2" cy="1283.8" r="8.7"/><circle cx="1193.3" cy="1260.3" r="8.7"/><circle cx="1186.5" cy="1319.1" r="8.7"/><circle cx="1239.5" cy="1267.6" r="8.7"/><circle cx="1219.6" cy="1310.7" r="8.7"/><circle cx="1134.7" cy="1303.0" r="8.7"/><circle cx="1186.2" cy="1339.8" r="8.7"/><circle cx="1099.6" cy="1341.7" r="8.7"/><circle cx="1120.3" cy="1284.6" r="8.7"/><circle cx="1119.6" cy="1354.5" r="8.7"/><circle cx="1246.4" cy="1331.8" r="8.7"/><circle cx="1163.9" cy="1333.8" r="8.7"/><circle cx="1247.3" cy="1293.9" r="8.7"/><circle cx="1111.8" cy="1283.5" r="8.7"/><circle cx="1214.4" cy="1263.9" r="8.7"/><circle cx="1215.2" cy="1283.3" r="8.7"/><circle cx="1169.9" cy="1351.3" r="8.7"/><circle cx="1195.7" cy="1333.8" r="8.7"/><circle cx="1146.5" cy="1295.2" r="8.7"/><circle cx="1158.8" cy="1287.6" r="8.7"/><circle cx="1105.0" cy="1340.4" r="8.7"/><circle cx="1207.3" cy="1284.6" r="8.7"/><circle cx="1143.3" cy="1307.5" r="8.7"/><circle cx="1111.2" cy="1253.8" r="8.7"/><circle cx="1174.1" cy="1341.2" r="8.7"/><circle cx="1227.8" cy="1285.7" r="8.7"/><circle cx="1041.2" cy="1356.8" r="8.7"/><circle cx="1126.7" cy="1356.3" r="8.7"/><circle cx="1186.3" cy="1350.6" r="8.7"/><circle cx="1243.7" cy="1347.3" r="8.7"/><circle cx="1119.3" cy="1325.8" r="8.7"/><circle cx="1248.6" cy="1269.2" r="8.7"/><circle cx="1201.2" cy="1279.6" r="8.7"/><circle cx="1079.9" cy="1342.8" r="8.7"/><circle cx="1088.3" cy="1286.0" r="8.7"/><circle cx="1198.9" cy="1291.7" r="8.7"/><circle cx="1186.4" cy="1282.1" r="8.7"/><circle cx="1178.2" cy="1286.0" r="8.7"/><circle cx="1203.9" cy="1343.3" r="8.7"/><circle cx="1163.7" cy="1255.8" r="8.7"/><circle cx="1086.2" cy="1324.0" r="8.7"/><circle cx="1217.4" cy="1325.9" r="8.7"/><circle cx="1162.9" cy="1310.9" r="8.7"/><circle cx="1058.4" cy="1348.5" r="8.7"/><circle cx="1146.0" cy="1359.3" r="8.7"/><circle cx="1207.9" cy="1348.2" r="8.7"/><circle cx="1063.1" cy="1287.9" r="8.7"/><circle cx="1095.8" cy="1284.4" r="8.7"/><circle cx="1176.4" cy="1274.8" r="8.7"/><circle cx="1154.6" cy="1309.1" r="8.7"/><circle cx="1151.7" cy="1268.7" r="8.7"/><circle cx="1112.2" cy="1359.7" r="8.7"/><circle cx="1089.5" cy="1318.8" r="8.7"/><circle cx="1158.7" cy="1269.8" r="8.7"/><circle cx="1137.1" cy="1267.8" r="8.7"/><circle cx="1210.4" cy="1300.2" r="8.7"/><circle cx="1127.3" cy="1351.1" r="8.7"/><circle cx="1047.6" cy="1343.3" r="8.7"/><circle cx="1233.1" cy="1346.7" r="8.7"/><circle cx="1146.9" cy="1302.3" r="8.7"/><circle cx="1048.0" cy="1314.4" r="8.7"/><circle cx="1202.9" cy="1282.2" r="8.7"/><circle cx="1166.7" cy="1340.7" r="8.7"/><circle cx="1227.0" cy="1342.3" r="8.7"/><circle cx="1184.5" cy="1302.2" r="8.7"/><circle cx="1104.2" cy="1271.2" r="8.7"/><circle cx="1100.0" cy="1323.1" r="8.7"/><circle cx="1167.5" cy="1334.6" r="8.7"/><circle cx="1111.8" cy="1299.0" r="8.7"/><circle cx="1239.0" cy="1310.8" r="8.7"/><circle cx="1239.1" cy="1342.3" r="8.7"/><circle cx="1089.5" cy="1358.3" r="8.7"/><circle cx="1115.0" cy="1312.0" r="8.7"/><circle cx="1113.2" cy="1323.5" r="8.7"/><circle cx="1088.8" cy="1291.2" r="8.7"/><circle cx="1215.2" cy="1290.9" r="8.7"/><circle cx="1192.5" cy="1303.0" r="8.7"/><circle cx="1102.9" cy="1333.6" r="8.7"/><circle cx="1184.8" cy="1260.1" r="8.7"/><circle cx="1174.2" cy="1301.5" r="8.7"/><circle cx="1095.3" cy="1310.5" r="8.7"/><circle cx="1222.0" cy="1301.9" r="8.7"/><circle cx="1103.3" cy="1350.4" r="8.7"/><circle cx="1202.9" cy="1262.7" r="8.7"/><circle cx="1090.8" cy="1263.4" r="8.7"/><circle cx="1176.8" cy="1261.9" r="8.7"/><circle cx="1209.5" cy="1319.6" r="8.7"/><circle cx="1163.3" cy="1327.8" r="8.7"/><circle cx="1120.1" cy="1300.9" r="8.7"/><circle cx="1070.9" cy="1270.0" r="8.7"/><circle cx="1050.3" cy="1346.9" r="8.7"/><circle cx="1128.0" cy="1300.2" r="8.7"/><circle cx="1134.7" cy="1310.0" r="8.7"/><circle cx="1182.8" cy="1268.9" r="8.7"/><circle cx="1167.5" cy="1357.9" r="8.7"/><circle cx="1059.6" cy="1359.8" r="8.7"/><circle cx="1233.3" cy="1271.5" r="8.7"/><circle cx="1226.0" cy="1316.4" r="8.7"/><circle cx="1056.8" cy="1341.7" r="8.7"/><circle cx="1160.3" cy="1347.7" r="8.7"/><circle cx="1051.7" cy="1327.3" r="8.7"/><circle cx="1170.4" cy="1267.0" r="8.7"/><circle cx="1095.4" cy="1348.6" r="8.7"/><circle cx="1207.8" cy="1276.0" r="8.7"/><circle cx="1135.4" cy="1346.7" r="8.7"/><circle cx="1059.9" cy="1311.5" r="8.7"/><circle cx="1193.6" cy="1349.1" r="8.7"/><circle cx="1083.5" cy="1346.4" r="8.7"/><circle cx="1234.7" cy="1358.5" r="8.7"/><circle cx="1067.6" cy="1340.4" r="8.7"/><circle cx="1161.2" cy="1357.9" r="8.7"/><circle cx="1136.3" cy="1324.0" r="8.7"/><circle cx="1074.1" cy="1330.1" r="8.7"/><circle cx="1130.0" cy="1258.5" r="8.7"/><circle cx="1232.4" cy="1290.2" r="8.7"/><circle cx="1074.1" cy="1340.2" r="8.7"/><circle cx="1089.9" cy="1254.0" r="8.7"/><circle cx="1233.2" cy="1335.4" r="8.7"/><circle cx="1223.6" cy="1262.0" r="8.7"/><circle cx="1167.1" cy="1274.4" r="8.7"/><circle cx="1105.0" cy="1263.9" r="8.7"/><circle cx="1142.5" cy="1340.3" r="8.7"/><circle cx="1056.9" cy="1324.5" r="8.7"/><circle cx="1191.4" cy="1317.5" r="8.7"/><circle cx="1118.3" cy="1339.7" r="8.7"/><circle cx="1128.5" cy="1279.6" r="8.7"/><circle cx="1201.4" cy="1319.3" r="8.7"/><circle cx="1080.4" cy="1324.8" r="8.7"/><circle cx="1235.0" cy="1299.8" r="8.7"/><circle cx="1082.3" cy="1293.1" r="8.7"/><circle cx="1107.4" cy="1253.5" r="8.7"/><circle cx="1137.9" cy="1278.7" r="8.7"/><circle cx="1107.3" cy="1324.4" r="8.7"/><circle cx="1246.8" cy="1326.5" r="8.7"/><circle cx="1114.2" cy="1315.8" r="8.7"/><circle cx="1160.7" cy="1262.0" r="8.7"/><circle cx="1102.5" cy="1307.0" r="8.7"/><circle cx="1094.6" cy="1298.0" r="8.7"/><circle cx="1099.5" cy="1267.9" r="8.7"/><circle cx="1071.3" cy="1350.1" r="8.7"/><circle cx="1120.5" cy="1309.7" r="8.7"/><circle cx="1226.4" cy="1326.1" r="8.7"/><circle cx="1097.0" cy="1318.6" r="8.7"/><circle cx="1086.7" cy="1332.3" r="8.7"/><circle cx="1065.9" cy="1333.0" r="8.7"/><circle cx="1145.8" cy="1319.6" r="8.7"/><circle cx="1160.6" cy="1280.0" r="8.7"/><circle cx="1135.0" cy="1316.3" r="8.7"/><circle cx="1095.9" cy="1333.1" r="8.7"/><circle cx="1201.6" cy="1351.4" r="8.7"/><circle cx="1207.1" cy="1307.9" r="8.7"/><circle cx="1094.5" cy="1290.3" r="8.7"/><circle cx="1201.1" cy="1270.8" r="8.7"/><circle cx="1240.1" cy="1293.9" r="8.7"/><circle cx="1235.9" cy="1326.4" r="8.7"/><circle cx="1137.7" cy="1258.2" r="8.7"/><circle cx="1153.1" cy="1318.5" r="8.7"/><circle cx="1161.6" cy="1317.9" r="8.7"/><circle cx="1239.6" cy="1298.6" r="8.7"/><circle cx="1168.7" cy="1261.5" r="8.7"/><circle cx="1217.6" cy="1343.0" r="8.7"/><circle cx="1225.0" cy="1330.3" r="8.7"/><circle cx="1120.9" cy="1330.0" r="8.7"/><circle cx="1118.3" cy="1316.8" r="8.7"/><circle cx="1174.6" cy="1307.3" r="8.7"/><circle cx="1135.1" cy="1335.5" r="8.7"/><circle cx="1071.4" cy="1306.6" r="8.7"/><circle cx="1247.4" cy="1298.9" r="8.7"/><circle cx="1209.9" cy="1294.2" r="8.7"/><circle cx="1175.3" cy="1295.7" r="8.7"/><circle cx="1222.5" cy="1346.1" r="8.7"/><circle cx="1207.0" cy="1358.6" r="8.7"/><circle cx="1050.1" cy="1335.6" r="8.7"/><circle cx="1242.6" cy="1355.2" r="8.7"/><circle cx="1235.0" cy="1258.4" r="8.7"/><circle cx="1242.8" cy="1262.0" r="8.7"/><circle cx="1058.9" cy="1330.4" r="8.7"/><circle cx="1240.1" cy="1316.3" r="8.7"/><circle cx="1155.8" cy="1351.6" r="8.7"/><circle cx="1162.9" cy="1343.1" r="8.7"/><circle cx="1074.6" cy="1302.6" r="8.7"/><circle cx="1138.2" cy="1254.4" r="8.7"/><circle cx="1193.7" cy="1355.1" r="8.7"/><circle cx="1217.4" cy="1351.3" r="8.7"/><circle cx="1145.0" cy="1336.0" r="8.7"/><circle cx="1067.2" cy="1314.3" r="8.7"/><circle cx="1202.6" cy="1309.6" r="8.7"/><circle cx="1146.0" cy="1267.7" r="8.7"/><circle cx="1114.2" cy="1292.7" r="8.7"/><circle cx="1222.1" cy="1358.7" r="8.7"/><circle cx="1151.0" cy="1333.5" r="8.7"/><circle cx="1207.5" cy="1269.3" r="8.7"/><circle cx="1142.3" cy="1255.4" r="8.7"/><circle cx="1146.3" cy="1260.4" r="8.7"/><circle cx="1233.8" cy="1318.6" r="8.7"/><circle cx="1211.3" cy="1338.6" r="8.7"/><circle cx="1154.8" cy="1294.2" r="8.7"/><circle cx="1120.7" cy="1276.4" r="8.7"/><circle cx="1177.5" cy="1356.6" r="8.7"/><circle cx="1233.4" cy="1274.1" r="8.7"/><circle cx="1216.3" cy="1276.8" r="8.7"/><circle cx="1067.6" cy="1347.7" r="8.7"/><circle cx="1134.8" cy="1283.2" r="8.7"/><circle cx="1039.8" cy="1325.6" r="8.7"/><circle cx="1154.3" cy="1340.4" r="8.7"/><circle cx="1218.0" cy="1298.5" r="8.7"/><circle cx="1114.2" cy="1262.4" r="8.7"/><circle cx="1143.7" cy="1346.2" r="8.7"/><circle cx="1065.2" cy="1355.4" r="8.7"/><circle cx="1135.0" cy="1292.7" r="8.7"/><circle cx="1063.8" cy="1322.9" r="8.7"/><circle cx="1111.0" cy="1343.4" r="8.7"/><circle cx="1103.2" cy="1298.9" r="8.7"/><circle cx="1114.7" cy="1350.1" r="8.7"/><circle cx="1193.6" cy="1340.2" r="8.7"/><circle cx="1115.2" cy="1274.5" r="8.7"/><circle cx="1191.4" cy="1275.2" r="8.7"/><circle cx="1201.0" cy="1335.8" r="8.7"/><circle cx="1186.6" cy="1307.0" r="8.7"/><circle cx="1194.0" cy="1269.7" r="8.7"/><circle cx="1239.2" cy="1334.8" r="8.7"/><circle cx="1184.4" cy="1330.5" r="8.7"/><circle cx="1169.8" cy="1314.4" r="8.7"/><circle cx="1107.3" cy="1286.1" r="8.7"/><circle cx="1102.4" cy="1275.2" r="8.7"/><circle cx="1081.9" cy="1319.8" r="8.7"/><circle cx="1089.7" cy="1279.9" r="8.7"/><circle cx="1112.8" cy="1335.7" r="8.7"/><circle cx="1153.4" cy="1262.1" r="8.7"/><circle cx="1195.8" cy="1324.3" r="8.7"/><circle cx="1106.9" cy="1355.6" r="8.7"/><circle cx="1190.4" cy="1287.7" r="8.7"/><circle cx="1211.2" cy="1260.1" r="8.7"/><circle cx="1099.1" cy="1277.5" r="8.7"/><circle cx="1126.7" cy="1309.4" r="8.7"/><circle cx="1139.7" cy="1356.5" r="8.7"/><circle cx="1166.4" cy="1308.0" r="8.7"/><circle cx="1123.1" cy="1346.8" r="8.7"/><circle cx="1145.9" cy="1287.6" r="8.7"/><circle cx="1201.7" cy="1354.7" r="8.7"/><circle cx="1086.0" cy="1349.4" r="8.7"/><circle cx="1158.7" cy="1299.0" r="8.7"/><circle cx="1235.6" cy="1339.0" r="8.7"/><circle cx="1150.3" cy="1356.2" r="8.7"/><circle cx="1179.3" cy="1326.7" r="8.7"/><circle cx="1120.5" cy="1295.2" r="8.7"/><circle cx="1130.7" cy="1318.1" r="8.7"/><circle cx="1112.6" cy="1268.5" r="8.7"/><circle cx="1097.8" cy="1259.4" r="8.7"/><circle cx="1079.7" cy="1359.8" r="8.7"/><circle cx="1123.9" cy="1263.0" r="8.7"/><circle cx="1090.8" cy="1310.2" r="8.7"/><circle cx="1478.3" cy="540.7" r="8.7"/><circle cx="1702.7" cy="689.9" r="8.7"/><circle cx="1392.1" cy="920.1" r="8.7"/><circle cx="1620.4" cy="909.4" r="8.7"/><circle cx="1368.3" cy="960.5" r="8.7"/><circle cx="1431.6" cy="1015.3" r="8.7"/><circle cx="1315.8" cy="1042.2" r="8.7"/><circle cx="1302.2" cy="1099.5" r="8.7"/><circle cx="1344.0" cy="1120.7" r="8.7"/><circle cx="1402.8" cy="1151.3" r="8.7"/><circle cx="1546.1" cy="1160.9" r="8.7"/><circle cx="1524.6" cy="1172.5" r="8.7"/><circle cx="1704.1" cy="1094.2" r="8.7"/><circle cx="1716.5" cy="1141.9" r="8.7"/><circle cx="1279.0" cy="1197.9" r="8.7"/><circle cx="1443.2" cy="1196.5" r="8.7"/><circle cx="1343.8" cy="1206.9" r="8.7"/><circle cx="1260.0" cy="1063.2" r="8.7"/><circle cx="1214.9" cy="1125.4" r="8.7"/><circle cx="1159.9" cy="1139.6" r="8.7"/><circle cx="1243.2" cy="1142.2" r="8.7"/><circle cx="1199.4" cy="1152.7" r="8.7"/><circle cx="1221.3" cy="1151.6" r="8.7"/><circle cx="1194.1" cy="1167.3" r="8.7"/><circle cx="1218.3" cy="1189.8" r="8.7"/><circle cx="1184.2" cy="1196.7" r="8.7"/><circle cx="1245.4" cy="1196.3" r="8.7"/><circle cx="1060.8" cy="1356.6" r="8.7"/><circle cx="1091.8" cy="1356.6" r="8.7"/><circle cx="1118.7" cy="1356.6" r="8.7"/><circle cx="1141.3" cy="1356.6" r="8.7"/><circle cx="1166.7" cy="1356.6" r="8.7"/><circle cx="1190.8" cy="1356.6" r="8.7"/><circle cx="1216.2" cy="1356.6" r="8.7"/><circle cx="1240.2" cy="1356.6" r="8.7"/><circle cx="1039.6" cy="1348.1" r="8.7"/><circle cx="1060.8" cy="1353.1" r="8.7"/><circle cx="1064.3" cy="1336.8" r="8.7"/><circle cx="1094.7" cy="1341.1" r="8.7"/><circle cx="1128.6" cy="1340.4" r="8.7"/><circle cx="1159.0" cy="1338.3" r="8.7"/><circle cx="1175.2" cy="1339.7" r="8.7"/><circle cx="1224.0" cy="1344.6" r="8.7"/><circle cx="1207.0" cy="1349.6" r="8.7"/><circle cx="1241.6" cy="1349.6" r="8.7"/><circle cx="1106.7" cy="1325.5" r="8.7"/><circle cx="1142.0" cy="1331.9" r="8.7"/><circle cx="1158.3" cy="1315.6" r="8.7"/><circle cx="1202.1" cy="1331.2" r="8.7"/><circle cx="1199.2" cy="1318.5" r="8.7"/><circle cx="1236.0" cy="1317.1" r="8.7"/><circle cx="1075.6" cy="1306.5" r="8.7"/><circle cx="1085.5" cy="1297.3" r="8.7"/><circle cx="1094.7" cy="1310.0" r="8.7"/><circle cx="1118.7" cy="1304.3" r="8.7"/><circle cx="1153.3" cy="1305.8" r="8.7"/><circle cx="1170.3" cy="1297.3" r="8.7"/><circle cx="1056.5" cy="1294.5" r="8.7"/><circle cx="1045.2" cy="1284.6" r="8.7"/><circle cx="1067.8" cy="1276.1" r="8.7"/><circle cx="1104.6" cy="1282.4" r="8.7"/><circle cx="1147.7" cy="1286.0" r="8.7"/><circle cx="1160.4" cy="1286.7" r="8.7"/><circle cx="1179.4" cy="1290.2" r="8.7"/><circle cx="1210.5" cy="1290.2" r="8.7"/><circle cx="1240.2" cy="1297.3" r="8.7"/><circle cx="1238.8" cy="1270.4" r="8.7"/><circle cx="1131.4" cy="1258.4" r="8.7"/><circle cx="1118.7" cy="1264.8" r="8.7"/><circle cx="1114.5" cy="1270.4" r="8.7"/><circle cx="1139.9" cy="1267.6" r="8.7"/><circle cx="1160.4" cy="1255.6" r="8.7"/><circle cx="1164.6" cy="1270.4" r="8.7"/><circle cx="1186.5" cy="1247.8" r="8.7"/><circle cx="1214.1" cy="1251.4" r="8.7"/><circle cx="1227.5" cy="1257.7" r="8.7"/><circle cx="1197.1" cy="1262.0" r="8.7"/><circle cx="1096.1" cy="1239.3" r="8.7"/><circle cx="1110.9" cy="1241.5" r="8.7"/><circle cx="1163.9" cy="1242.2" r="8.7"/><circle cx="1245.9" cy="1247.1" r="8.7"/><circle cx="1135.6" cy="1235.1" r="8.7"/><circle cx="1127.2" cy="1235.1" r="8.7"/><circle cx="1150.5" cy="1235.8" r="8.7"/><circle cx="1186.5" cy="1234.4" r="8.7"/><circle cx="1228.2" cy="1238.6" r="8.7"/><circle cx="1108.8" cy="1222.4" r="8.7"/><circle cx="1211.2" cy="1225.2" r="8.7"/><circle cx="1247.3" cy="1225.2" r="8.7"/><circle cx="1159.0" cy="1211.1" r="8.7"/><circle cx="1165.3" cy="1225.2" r="8.7"/><circle cx="1162.5" cy="1218.2" r="8.7"/><circle cx="1144.1" cy="1206.8" r="8.7"/><circle cx="1201.3" cy="1201.9" r="8.7"/><circle cx="1224.7" cy="1203.3" r="8.7"/><circle cx="1225.4" cy="1207.6" r="8.7"/><circle cx="1257.8" cy="1356.6" r="8.7"/><circle cx="1292.4" cy="1356.6" r="8.7"/><circle cx="1315.7" cy="1356.6" r="8.7"/><circle cx="1334.8" cy="1356.6" r="8.7"/><circle cx="1398.4" cy="1352.4" r="8.7"/><circle cx="1252.8" cy="1349.6" r="8.7"/><circle cx="1259.9" cy="1339.7" r="8.7"/><circle cx="1303.0" cy="1346.7" r="8.7"/><circle cx="1313.6" cy="1339.7" r="8.7"/><circle cx="1336.2" cy="1345.3" r="8.7"/><circle cx="1357.4" cy="1349.6" r="8.7"/><circle cx="1347.5" cy="1339.7" r="8.7"/><circle cx="1370.8" cy="1339.7" r="8.7"/><circle cx="1440.0" cy="1346.7" r="8.7"/><circle cx="1264.1" cy="1328.4" r="8.7"/><circle cx="1271.2" cy="1329.8" r="8.7"/><circle cx="1252.8" cy="1324.1" r="8.7"/><circle cx="1285.3" cy="1326.9" r="8.7"/><circle cx="1288.2" cy="1329.8" r="8.7"/><circle cx="1319.2" cy="1328.4" r="8.7"/><circle cx="1356.7" cy="1324.1" r="8.7"/><circle cx="1371.5" cy="1321.3" r="8.7"/><circle cx="1389.9" cy="1331.9" r="8.7"/><circle cx="1415.3" cy="1326.9" r="8.7"/><circle cx="1418.8" cy="1323.4" r="8.7"/><circle cx="1430.9" cy="1325.5" r="8.7"/><circle cx="1450.6" cy="1329.8" r="8.7"/><circle cx="1450.6" cy="1324.1" r="8.7"/><circle cx="1432.3" cy="1311.4" r="8.7"/><circle cx="1258.5" cy="1310.0" r="8.7"/><circle cx="1275.4" cy="1317.1" r="8.7"/><circle cx="1293.8" cy="1321.3" r="8.7"/><circle cx="1292.4" cy="1319.9" r="8.7"/><circle cx="1317.8" cy="1317.1" r="8.7"/><circle cx="1331.2" cy="1315.6" r="8.7"/><circle cx="1346.1" cy="1314.2" r="8.7"/><circle cx="1384.2" cy="1315.6" r="8.7"/><circle cx="1279.0" cy="1300.1" r="8.7"/><circle cx="1295.2" cy="1301.5" r="8.7"/><circle cx="1312.9" cy="1298.7" r="8.7"/><circle cx="1316.4" cy="1300.1" r="8.7"/><circle cx="1337.6" cy="1295.9" r="8.7"/><circle cx="1358.8" cy="1305.8" r="8.7"/><circle cx="1353.1" cy="1297.3" r="8.7"/><circle cx="1370.1" cy="1310.0" r="8.7"/><circle cx="1405.4" cy="1309.3" r="8.7"/><circle cx="1412.5" cy="1300.1" r="8.7"/><circle cx="1393.4" cy="1299.4" r="8.7"/><circle cx="1445.0" cy="1302.9" r="8.7"/><circle cx="1431.6" cy="1291.6" r="8.7"/><circle cx="1305.8" cy="1291.6" r="8.7"/><circle cx="1303.7" cy="1284.6" r="8.7"/><circle cx="1259.2" cy="1290.2" r="8.7"/><circle cx="1274.0" cy="1291.6" r="8.7"/><circle cx="1351.7" cy="1284.6" r="8.7"/><circle cx="1374.3" cy="1290.2" r="8.7"/><circle cx="1370.1" cy="1287.4" r="8.7"/><circle cx="1271.9" cy="1273.3" r="8.7"/><circle cx="1267.0" cy="1264.8" r="8.7"/><circle cx="1297.3" cy="1271.8" r="8.7"/><circle cx="1290.3" cy="1267.6" r="8.7"/><circle cx="1328.4" cy="1276.1" r="8.7"/><circle cx="1390.6" cy="1272.5" r="8.7"/><circle cx="1401.5" cy="1257.7" r="8.7"/><circle cx="1347.5" cy="1264.8" r="8.7"/><circle cx="1428.0" cy="1270.4" r="8.7"/><circle cx="1486.0" cy="1264.8" r="8.7"/><circle cx="1495.9" cy="1271.8" r="8.7"/><circle cx="1380.0" cy="1245.0" r="8.7"/><circle cx="1330.5" cy="1257.0" r="8.7"/><circle cx="1329.1" cy="1244.3" r="8.7"/><circle cx="1334.1" cy="1247.8" r="8.7"/><circle cx="1307.2" cy="1256.3" r="8.7"/><circle cx="1307.9" cy="1250.6" r="8.7"/><circle cx="1305.8" cy="1243.6" r="8.7"/><circle cx="1253.5" cy="1226.6" r="8.7"/><circle cx="1268.4" cy="1236.5" r="8.7"/><circle cx="1341.8" cy="1235.1" r="8.7"/><circle cx="1340.4" cy="1220.3" r="8.7"/><circle cx="1431.6" cy="1226.6" r="8.7"/><circle cx="1490.2" cy="1230.9" r="8.7"/><circle cx="1496.6" cy="1215.3" r="8.7"/><circle cx="1498.7" cy="1250.6" r="8.7"/><circle cx="1490.2" cy="1297.3" r="8.7"/><circle cx="1493.0" cy="1300.1" r="8.7"/><circle cx="1490.2" cy="1318.5" r="8.7"/><circle cx="1497.3" cy="1317.1" r="8.7"/><circle cx="1491.6" cy="1342.5" r="8.7"/><circle cx="1498.7" cy="1348.1" r="8.7"/><circle cx="1513.4" cy="1355.2" r="8.7"/><circle cx="1544.5" cy="1355.9" r="8.7"/><circle cx="1517.0" cy="1343.9" r="8.7"/><circle cx="1504.2" cy="1334.0" r="8.7"/><circle cx="1521.2" cy="1336.1" r="8.7"/><circle cx="1537.4" cy="1335.4" r="8.7"/><circle cx="1551.6" cy="1330.5" r="8.7"/><circle cx="1583.8" cy="1329.1" r="8.7"/><circle cx="1609.5" cy="1325.5" r="8.7"/><circle cx="1510.6" cy="1317.8" r="8.7"/><circle cx="1549.5" cy="1314.2" r="8.7"/><circle cx="1514.8" cy="1302.2" r="8.7"/><circle cx="1529.0" cy="1289.5" r="8.7"/><circle cx="1532.5" cy="1304.3" r="8.7"/><circle cx="1545.2" cy="1302.9" r="8.7"/><circle cx="1552.3" cy="1304.3" r="8.7"/><circle cx="1565.7" cy="1300.1" r="8.7"/><circle cx="1559.1" cy="1310.0" r="8.7"/><circle cx="1578.1" cy="1309.3" r="8.7"/><circle cx="1596.8" cy="1294.5" r="8.7"/><circle cx="1598.9" cy="1299.4" r="8.7"/><circle cx="1608.8" cy="1301.5" r="8.7"/><circle cx="1627.6" cy="1303.4" r="8.7"/><circle cx="1617.0" cy="1295.9" r="8.7"/><circle cx="1596.4" cy="1313.1" r="8.7"/><circle cx="1518.1" cy="1277.9" r="8.7"/><circle cx="1507.8" cy="1251.8" r="8.7"/><circle cx="1505.7" cy="1233.7" r="8.7"/><circle cx="1519.1" cy="1229.5" r="8.7"/><circle cx="1562.9" cy="1250.6" r="8.7"/><circle cx="1582.9" cy="1269.4" r="8.7"/><circle cx="1640.2" cy="1264.4" r="8.7"/><circle cx="1735.3" cy="1267.6" r="8.7"/><circle cx="1716.2" cy="1293.5" r="8.7"/><circle cx="1677.3" cy="1313.5" r="8.7"/><circle cx="1682.3" cy="1303.6" r="8.7"/><circle cx="1734.6" cy="1319.9" r="8.7"/><circle cx="1682.7" cy="1346.4" r="8.7"/><circle cx="1725.8" cy="1351.7" r="8.7"/></g><path d="M998.6 1357.5h25.0M1011.1 1344.5v26.0M999.0 1356.7h25.0M1011.5 1343.7v26.0M999.6 1355.7h25.0M1012.1 1342.7v26.0M1000.5 1354.0h25.0M1013.0 1341.0v26.0M1001.1 1352.9h25.0M1013.6 1339.9v26.0M1001.4 1352.4h25.0M1013.9 1339.4v26.0M1002.4 1350.6h25.0M1014.9 1337.6v26.0M1002.9 1349.8h25.0M1015.4 1336.8v26.0M1003.4 1348.8h25.0M1015.9 1335.8v26.0M1004.0 1347.8h25.0M1016.5 1334.8v26.0M1004.8 1346.2h25.0M1017.3 1333.2v26.0M1005.3 1345.4h25.0M1017.8 1332.4v26.0M1006.1 1344.0h25.0M1018.6 1331.0v26.0M1006.6 1343.1h25.0M1019.1 1330.1v26.0M1007.3 1341.9h25.0M1019.8 1328.9v26.0M1007.9 1340.8h25.0M1020.4 1327.8v26.0M1008.8 1339.2h25.0M1021.3 1326.2v26.0M1009.2 1338.3h25.0M1021.7 1325.3v26.0M1010.0 1337.0h25.0M1022.5 1324.0v26.0M1010.3 1336.5h25.0M1022.8 1323.5v26.0M1011.1 1335.0h25.0M1023.6 1322.0v26.0M1011.9 1333.6h25.0M1024.4 1320.6v26.0M1012.4 1332.7h25.0M1024.9 1319.7v26.0M1013.0 1331.5h25.0M1025.5 1318.5v26.0M1013.6 1330.5h25.0M1026.1 1317.5v26.0M1014.2 1329.4h25.0M1026.7 1316.4v26.0M1014.8 1328.3h25.0M1027.3 1315.3v26.0M1015.5 1327.0h25.0M1028.0 1314.0v26.0M1016.1 1326.1h25.0M1028.6 1313.1v26.0M1016.9 1324.6h25.0M1029.4 1311.6v26.0M1017.3 1323.8h25.0M1029.8 1310.8v26.0M1018.2 1322.3h25.0M1030.7 1309.3v26.0M1018.8 1321.2h25.0M1031.3 1308.2v26.0M1019.4 1320.1h25.0M1031.9 1307.1v26.0M1020.1 1318.9h25.0M1032.6 1305.9v26.0M1020.5 1318.1h25.0M1033.0 1305.1v26.0M1021.1 1317.1h25.0M1033.6 1304.1v26.0M1021.9 1315.6h25.0M1034.4 1302.6v26.0M1022.4 1314.7h25.0M1034.9 1301.7v26.0M1023.1 1313.4h25.0M1035.6 1300.4v26.0M1023.6 1312.5h25.0M1036.1 1299.5v26.0M1024.3 1311.3h25.0M1036.8 1298.3v26.0M1025.1 1309.9h25.0M1037.6 1296.9v26.0M1025.8 1308.7h25.0M1038.3 1295.7v26.0M1026.2 1307.8h25.0M1038.7 1294.8v26.0M1027.1 1306.3h25.0M1039.6 1293.3v26.0M1027.6 1305.3h25.0M1040.1 1292.3v26.0M1028.1 1304.6h25.0M1040.6 1291.6v26.0M1028.6 1303.5h25.0M1041.1 1290.5v26.0M1029.4 1302.1h25.0M1041.9 1289.1v26.0M1030.2 1300.8h25.0M1042.7 1287.8v26.0M1030.8 1299.6h25.0M1043.3 1286.6v26.0M1031.2 1299.0h25.0M1043.7 1286.0v26.0M1032.2 1297.2h25.0M1044.7 1284.2v26.0M1032.7 1296.3h25.0M1045.2 1283.3v26.0M1033.2 1295.3h25.0M1045.7 1282.3v26.0M1033.6 1294.7h25.0M1046.1 1281.7v26.0M1034.5 1293.0h25.0M1047.0 1280.0v26.0M1036.7 1289.0h25.0M1049.2 1276.0v26.0M1038.2 1286.3h25.0M1050.7 1273.3v26.0M1039.0 1285.0h25.0M1051.5 1272.0v26.0M1040.0 1283.2h25.0M1052.5 1270.2v26.0M1042.1 1279.4h25.0M1054.6 1266.4v26.0M1044.2 1275.5h25.0M1056.7 1262.5v26.0M1047.5 1269.7h25.0M1060.0 1256.7v26.0M1049.5 1266.0h25.0M1062.0 1253.0v26.0M1050.9 1263.5h25.0M1063.4 1250.5v26.0" fill="none" stroke="#000" stroke-width="2.1" stroke-linecap="round"/><g fill="#ec0000" stroke="#000" stroke-width="2.35"><circle cx="1071.0" cy="1294.7" r="8.7"/><circle cx="1063.2" cy="1300.8" r="8.7"/><circle cx="1033.6" cy="1354.2" r="8.7"/><circle cx="1079.1" cy="1271.7" r="8.7"/><circle cx="1071.1" cy="1285.2" r="8.7"/><circle cx="1040.0" cy="1351.2" r="8.7"/><circle cx="1057.5" cy="1302.5" r="8.7"/><circle cx="1058.3" cy="1294.5" r="8.7"/><circle cx="1027.9" cy="1357.5" r="8.7"/><circle cx="1083.1" cy="1274.8" r="8.7"/><circle cx="1039.8" cy="1334.3" r="8.7"/><circle cx="1066.8" cy="1293.2" r="8.7"/><circle cx="1057.6" cy="1314.4" r="8.7"/><circle cx="1082.6" cy="1263.3" r="8.7"/><circle cx="1031.1" cy="1356.6" r="8.7"/><circle cx="1038.2" cy="1339.7" r="8.7"/><circle cx="1046.6" cy="1321.3" r="8.7"/><circle cx="1074.9" cy="1288.1" r="8.7"/><circle cx="1080.5" cy="1257.7" r="8.7"/><circle cx="1094.7" cy="1254.2" r="8.7"/><circle cx="1088.3" cy="1265.5" r="8.7"/></g></g>
<path d="M118 1350.2L842.3 764" stroke="#000" stroke-width="3.6" fill="none"/>
<g clip-path="url(#cr)"><path d="M1040 1322.1L1735.3 1236.3" stroke="#000" stroke-width="3.3" fill="none"/>
<g fill="#ec0000" stroke="#000" stroke-width="2.35"><circle cx="1240.2" cy="1297.3" r="8.7"/><circle cx="1259.2" cy="1290.2" r="8.7"/><circle cx="1351.7" cy="1284.6" r="8.7"/><circle cx="1390.6" cy="1272.5" r="8.7"/></g></g>
<g clip-path="url(#cl)"><g fill="#ec0000" stroke="#000" stroke-width="2.35"></g></g>
<path d="M110.5 46.0H118M1003 46.0H1010.6M110.5 483.4H118M1003 483.4H1010.6M110.5 920.7H118M1003 920.7H1010.6M110.5 1358.0H118M1003 1358.0H1010.6M118 1358V1365.5M362.0 1358V1365.5M605.8 1358V1365.5M849.7 1358V1365.5M1010.6 1358V1365.5M1254.6 1358V1365.5M1498.7 1358V1365.5M1742.7 1358V1365.5" stroke="#a3a3a3" stroke-width="1.3" fill="none"/>
<path d="M118 2V1359.8M116.3 1358.1H874.5M1010.6 2V1359.8M1008.9 1358.1H1767" stroke="#000" stroke-width="3.25" fill="none"/>
<g font-size="33" fill="#4d4d4d" stroke="#4d4d4d" stroke-width="0.3" lengthAdjust="spacingAndGlyphs"><text x="53.2" y="57.8" textLength="52.0">150</text><text x="87.9" y="1370.2" textLength="17.3">0</text><text x="946.2" y="57.8" textLength="52.0">150</text><text x="946.2" y="495.3" textLength="52.0">100</text><text x="963.5" y="932.6" textLength="34.7">50</text><text x="980.9" y="1370.2" textLength="17.3">0</text><text x="109.3" y="1395.3" textLength="17.3">0</text><text x="344.7" y="1395.3" textLength="34.7">50</text><text x="579.8" y="1395.3" textLength="52.0">100</text><text x="823.7" y="1395.3" textLength="52.0">150</text><text x="1001.9" y="1395.3" textLength="17.3">0</text><text x="1237.3" y="1395.3" textLength="34.7">50</text><text x="1472.7" y="1395.3" textLength="52.0">100</text><text x="1716.7" y="1395.3" textLength="52.0">150</text></g>
<text x="628.5" y="1453.5" font-size="39" fill="#000" stroke="#000" stroke-width="0.5" textLength="573" lengthAdjust="spacingAndGlyphs">Time of first brood transport (min)</text>
<g fill="#000"><text transform="translate(36.9 1283.3) rotate(-90)" font-size="43" textLength="103.0" lengthAdjust="spacingAndGlyphs">Time</text><text transform="translate(36.9 1165.8) rotate(-90)" font-size="43" textLength="113.5" lengthAdjust="spacingAndGlyphs">when</text><text transform="translate(36.9 1039.8) rotate(-90)" font-size="43" textLength="147.8" lengthAdjust="spacingAndGlyphs">workers</text><text transform="translate(36.9 883.8) rotate(-90)" font-size="43" textLength="76.7" lengthAdjust="spacingAndGlyphs">first</text><text transform="translate(36.9 795.3) rotate(-90)" font-size="43" textLength="130.1" lengthAdjust="spacingAndGlyphs">visited</text><text transform="translate(36.9 655.1) rotate(-90)" font-size="43" textLength="66.2" lengthAdjust="spacingAndGlyphs">the</text><text transform="translate(36.9 577.6) rotate(-90)" font-size="43" textLength="85.9" lengthAdjust="spacingAndGlyphs">new</text><text transform="translate(36.9 481.6) rotate(-90)" font-size="43" textLength="86.1" lengthAdjust="spacingAndGlyphs">strip</text><text transform="translate(36.9 383.8) rotate(-90)" font-size="43" textLength="39.3" lengthAdjust="spacingAndGlyphs">at</text><text transform="translate(36.9 331.3) rotate(-90)" font-size="45.5" textLength="48.7" lengthAdjust="spacingAndGlyphs">27</text><text transform="translate(22.0 281.9) rotate(-90)" font-size="27" textLength="15.9" lengthAdjust="spacingAndGlyphs">o</text><text transform="translate(36.9 265.3) rotate(-90)" font-size="45.5" textLength="25.6" lengthAdjust="spacingAndGlyphs">C</text><text transform="translate(36.9 229.9) rotate(-90)" font-size="43" textLength="106.1" lengthAdjust="spacingAndGlyphs">(min)</text><text transform="translate(917.0 1262.4) rotate(-90)" font-size="43" textLength="84.1" lengthAdjust="spacingAndGlyphs">First</text><text transform="translate(917.0 1167.3) rotate(-90)" font-size="43" textLength="87.8" lengthAdjust="spacingAndGlyphs">time</text><text transform="translate(917.0 1067.4) rotate(-90)" font-size="43" textLength="216.1" lengthAdjust="spacingAndGlyphs">interacting</text><text transform="translate(917.0 839.9) rotate(-90)" font-size="43" textLength="87.0" lengthAdjust="spacingAndGlyphs">with</text><text transform="translate(917.0 744.2) rotate(-90)" font-size="43" textLength="19.9" lengthAdjust="spacingAndGlyphs">a</text><text transform="translate(917.0 707.8) rotate(-90)" font-size="43" textLength="174.1" lengthAdjust="spacingAndGlyphs">privately</text><text transform="translate(917.0 525.8) rotate(-90)" font-size="43" textLength="184.4" lengthAdjust="spacingAndGlyphs">informed</text><text transform="translate(917.0 334.1) rotate(-90)" font-size="43" textLength="139.9" lengthAdjust="spacingAndGlyphs">worker</text><text transform="translate(917.0 187.7) rotate(-90)" font-size="43" textLength="109.3" lengthAdjust="spacingAndGlyphs">(min)</text></g>
<circle cx="158.8" cy="82.7" r="11.6" fill="#da2b20" stroke="#000" stroke-width="1.6"/>
<path d="M149.7 121.2h20.2M159.8 111.1v20.2" stroke="#000" stroke-width="3.1" fill="none"/>
<circle cx="1052.9" cy="81.4" r="11.6" fill="#da2b20" stroke="#000" stroke-width="1.6"/>
<path d="M1043.2 119.9h20.2M1053.3 109.8v20.2" stroke="#000" stroke-width="3.1" fill="none"/>
<g fill="#000"><text x="178.8" y="92.0" font-size="27.6" textLength="103.6" lengthAdjust="spacingAndGlyphs">Privately</text><text x="290.2" y="92.0" font-size="27.6" textLength="113.5" lengthAdjust="spacingAndGlyphs">informed</text><text x="179.8" y="133.8" font-size="27.8" textLength="46.4" lengthAdjust="spacingAndGlyphs">Not</text><text x="233.8" y="133.8" font-size="27.8" textLength="108.7" lengthAdjust="spacingAndGlyphs">privately</text><text x="350.1" y="133.8" font-size="27.8" textLength="117.9" lengthAdjust="spacingAndGlyphs">informed</text><text x="473.4" y="133.8" font-size="27.8" textLength="59.3" lengthAdjust="spacingAndGlyphs">prior</text><text x="542.2" y="133.8" font-size="27.8" textLength="26.3" lengthAdjust="spacingAndGlyphs">to</text><text x="574.9" y="133.8" font-size="27.8" textLength="75.6" lengthAdjust="spacingAndGlyphs">brood</text><text x="657.9" y="133.8" font-size="27.8" textLength="118.0" lengthAdjust="spacingAndGlyphs">transport</text><text x="1072.6" y="91.0" font-size="27.6" textLength="92.4" lengthAdjust="spacingAndGlyphs">Socially</text><text x="1172.5" y="91.0" font-size="27.6" textLength="114.1" lengthAdjust="spacingAndGlyphs">informed</text><text x="1072.3" y="133.7" font-size="27.8" textLength="44.6" lengthAdjust="spacingAndGlyphs">Not</text><text x="1125.5" y="133.7" font-size="27.8" textLength="91.0" lengthAdjust="spacingAndGlyphs">socially</text><text x="1224.1" y="133.7" font-size="27.8" textLength="117.9" lengthAdjust="spacingAndGlyphs">informed</text><text x="1347.2" y="133.7" font-size="27.8" textLength="60.1" lengthAdjust="spacingAndGlyphs">prior</text><text x="1416.9" y="133.7" font-size="27.8" textLength="26.3" lengthAdjust="spacingAndGlyphs">to</text><text x="1449.7" y="133.7" font-size="27.8" textLength="75.6" lengthAdjust="spacingAndGlyphs">brood</text><text x="1532.6" y="133.7" font-size="27.8" textLength="118.1" lengthAdjust="spacingAndGlyphs">transport</text></g>
</svg>
</body></html>
